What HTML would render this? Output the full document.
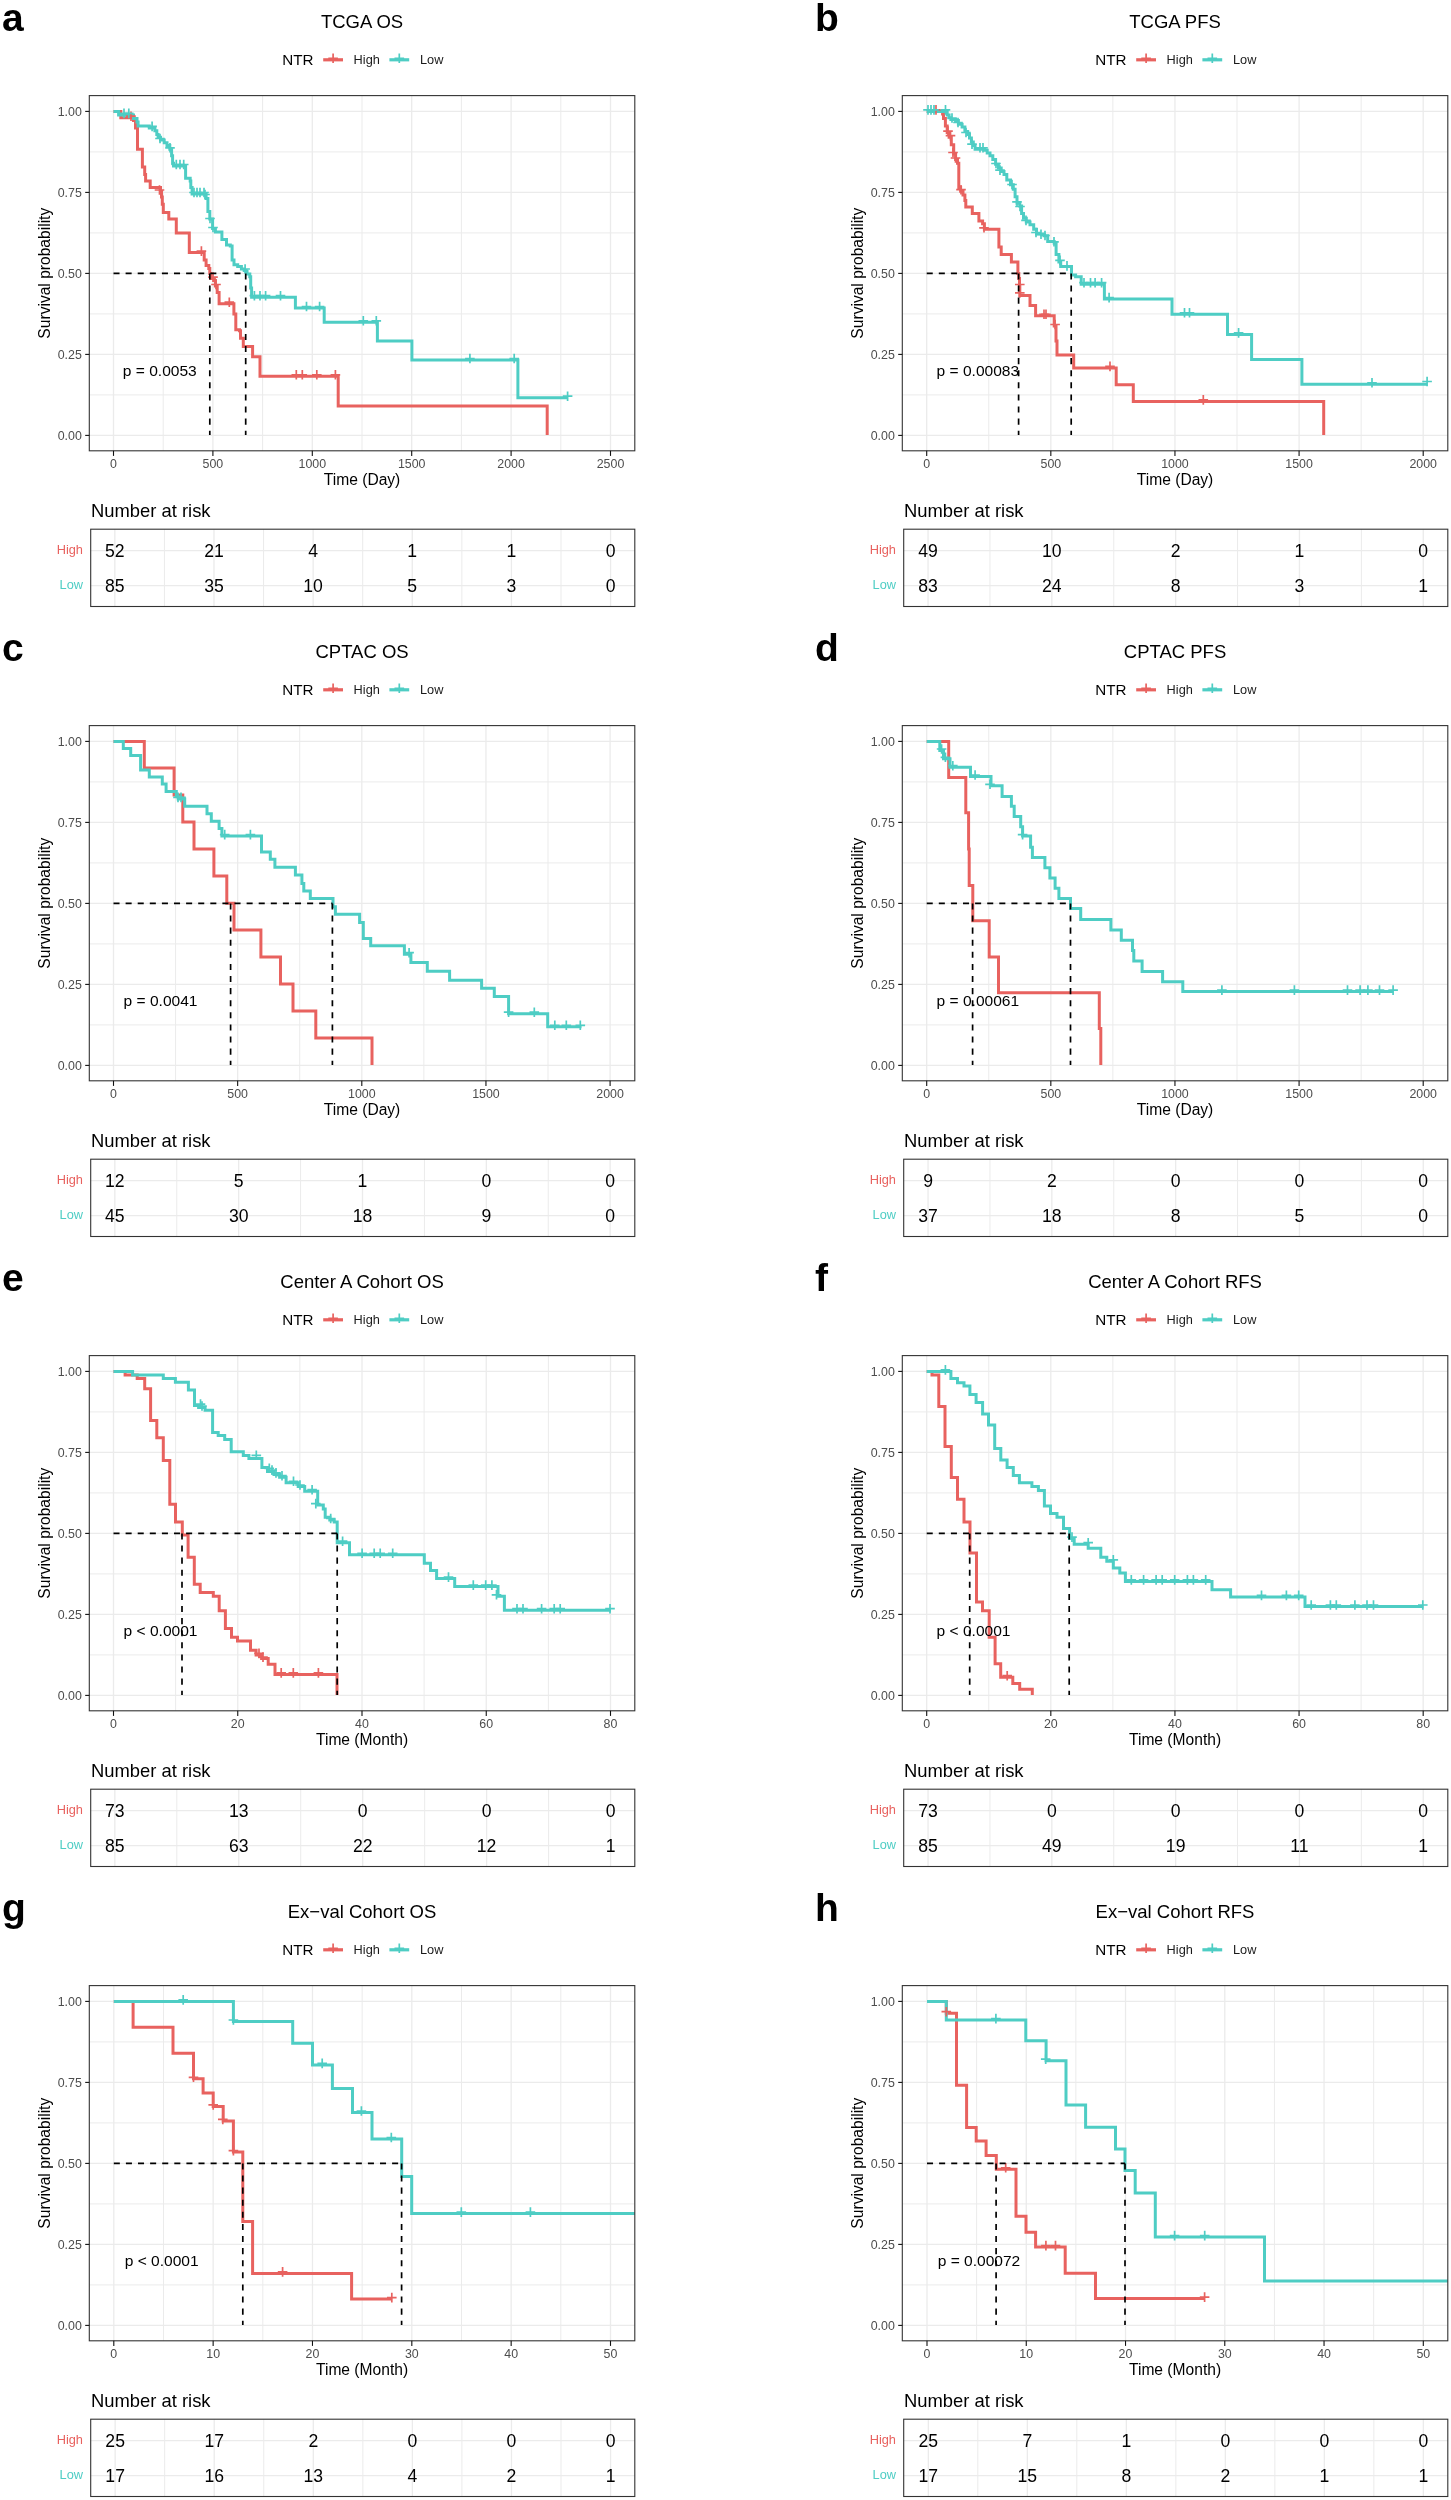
<!DOCTYPE html>
<html><head><meta charset="utf-8"><title>KM curves</title>
<style>html,body{margin:0;padding:0;background:#fff;}body{width:1451px;height:2500px;overflow:hidden;font-family:"Liberation Sans", sans-serif;}svg{display:block;will-change:transform;}</style>
</head><body>
<svg width="1451" height="2500" viewBox="0 0 1451 2500" font-family='&quot;Liberation Sans&quot;, sans-serif'>
<rect width="1451" height="2500" fill="#fff"/>
<g transform="translate(0,0)">
<text x="2" y="30.8" font-size="39" font-weight="bold" fill="#000">a</text>
<text x="362.05" y="28.2" font-size="18.5" text-anchor="middle" fill="#000">TCGA OS</text>
<text x="282.2" y="64.7" font-size="15.2" fill="#000">NTR</text>
<path d="M323.2 59.8h19.8" stroke="#E8625F" stroke-width="3.2"/>
<path d="M328.3 58.3h9.6M333.1 53.4v9.6" stroke="#E8625F" stroke-width="1.7"/>
<path d="M389.4 59.8h19.8" stroke="#4ECDC4" stroke-width="3.2"/>
<path d="M394.5 58.3h9.6M399.3 53.4v9.6" stroke="#4ECDC4" stroke-width="1.7"/>
<text x="353.6" y="64.3" font-size="12.75" fill="#1a1a1a">High</text>
<text x="420" y="64.3" font-size="12.75" fill="#1a1a1a">Low</text>
<rect x="89.3" y="95.6" width="545.5" height="355.2" fill="#fff"/>
<path d="M89.3 394.9H634.8" stroke="#EBEBEB" stroke-width="1"/>
<path d="M89.3 313.9H634.8" stroke="#EBEBEB" stroke-width="1"/>
<path d="M89.3 232.9H634.8" stroke="#EBEBEB" stroke-width="1"/>
<path d="M89.3 151.9H634.8" stroke="#EBEBEB" stroke-width="1"/>
<path d="M163.2 95.6V450.8" stroke="#EBEBEB" stroke-width="1"/>
<path d="M262.6 95.6V450.8" stroke="#EBEBEB" stroke-width="1"/>
<path d="M362 95.6V450.8" stroke="#EBEBEB" stroke-width="1"/>
<path d="M461.4 95.6V450.8" stroke="#EBEBEB" stroke-width="1"/>
<path d="M560.8 95.6V450.8" stroke="#EBEBEB" stroke-width="1"/>
<path d="M89.3 435.4H634.8" stroke="#EBEBEB" stroke-width="1.3"/>
<path d="M89.3 354.4H634.8" stroke="#EBEBEB" stroke-width="1.3"/>
<path d="M89.3 273.4H634.8" stroke="#EBEBEB" stroke-width="1.3"/>
<path d="M89.3 192.4H634.8" stroke="#EBEBEB" stroke-width="1.3"/>
<path d="M89.3 111.4H634.8" stroke="#EBEBEB" stroke-width="1.3"/>
<path d="M113.5 95.6V450.8" stroke="#EBEBEB" stroke-width="1.3"/>
<path d="M212.9 95.6V450.8" stroke="#EBEBEB" stroke-width="1.3"/>
<path d="M312.3 95.6V450.8" stroke="#EBEBEB" stroke-width="1.3"/>
<path d="M411.7 95.6V450.8" stroke="#EBEBEB" stroke-width="1.3"/>
<path d="M511.1 95.6V450.8" stroke="#EBEBEB" stroke-width="1.3"/>
<path d="M610.5 95.6V450.8" stroke="#EBEBEB" stroke-width="1.3"/>
</g>
<clipPath id="clipa"><rect x="89.3" y="95.6" width="545.5" height="355.2"/></clipPath>
<g clip-path="url(#clipa)">
<path d="M113.5 111.4H120.8V117.7H133.5V120.5H135.5V128H137.5V149.3H142.4V167H144.7V174.4H145.6V181H150.2V187.5H160.5V191.5H161.5V197H162.3V204.2H163.3V212.6H168.8V219.1H176.3V233H189.3V252.6H204.2V260H206.1V265.6H208.8V268.4H209.8V273.5H210.7V278.6H214.4V280.5H215.4V286H217.2V292.6H219.1V303.7H233.9V314H235.8V329.8H239.5V330.7H240.5V338.2H243.3V346.5H252.6V356.8H260V376.3H338.2V406H547.2V434.9H547.2" stroke="#E8625F" stroke-width="3" fill="none" stroke-linejoin="miter" stroke-linecap="butt"/>
<path d="M113.5 111.4H118.6V114.9H133.5V118.6H137V122H138.1V126H149.3V127.9H154.9V130.7H156.8V134.4H158.1V137.2H160.5V140H164.2V142.8H167V145.6H169.8V149.3H171.6V155.8H172.6V163.3H173.5V166H185.6V178.2H190.2V181H190.8V187.5H192.1V194H206.1V198.6H207.9V211.6H209.8V219.1H212.6V228.4H215.4V232.1H221.9V239.6H226.5V245.1H230.3V246.1H232.1V260H234V264.7H237.7V266.5H241.4V269H244.2V270.5H246.1V271.5H247V274H249.8V276.7H250.7V287.9H251.6V297.2H295.4V308H324.2V322.3H377.4V341H411.9V360H517.9V397.7H567.6" stroke="#4ECDC4" stroke-width="3" fill="none" stroke-linejoin="miter" stroke-linecap="butt"/>
<path d="M126.2 116.2h9.6M131 111.4v9.6" stroke="#E8625F" stroke-width="1.7" fill="none"/>
<path d="M154.7 190h9.6M159.5 185.2v9.6" stroke="#E8625F" stroke-width="1.7" fill="none"/>
<path d="M196.6 251.1h9.6M201.4 246.3v9.6" stroke="#E8625F" stroke-width="1.7" fill="none"/>
<path d="M208.2 277.1h9.6M213 272.3v9.6" stroke="#E8625F" stroke-width="1.7" fill="none"/>
<path d="M211.2 284.5h9.6M216 279.7v9.6" stroke="#E8625F" stroke-width="1.7" fill="none"/>
<path d="M224.5 302.2h9.6M229.3 297.4v9.6" stroke="#E8625F" stroke-width="1.7" fill="none"/>
<path d="M291.5 374.8h9.6M296.3 370v9.6" stroke="#E8625F" stroke-width="1.7" fill="none"/>
<path d="M297.5 374.8h9.6M302.3 370v9.6" stroke="#E8625F" stroke-width="1.7" fill="none"/>
<path d="M312 374.8h9.6M316.8 370v9.6" stroke="#E8625F" stroke-width="1.7" fill="none"/>
<path d="M330.6 374.8h9.6M335.4 370v9.6" stroke="#E8625F" stroke-width="1.7" fill="none"/>
<path d="M119.2 113.4h9.6M124 108.6v9.6" stroke="#4ECDC4" stroke-width="1.7" fill="none"/>
<path d="M124 113.4h9.6M128.8 108.6v9.6" stroke="#4ECDC4" stroke-width="1.7" fill="none"/>
<path d="M147.3 126.4h9.6M152.1 121.6v9.6" stroke="#4ECDC4" stroke-width="1.7" fill="none"/>
<path d="M155.2 138.5h9.6M160 133.7v9.6" stroke="#4ECDC4" stroke-width="1.7" fill="none"/>
<path d="M165.2 147.8h9.6M170 143v9.6" stroke="#4ECDC4" stroke-width="1.7" fill="none"/>
<path d="M171.5 164.5h9.6M176.3 159.7v9.6" stroke="#4ECDC4" stroke-width="1.7" fill="none"/>
<path d="M175.2 164.5h9.6M180 159.7v9.6" stroke="#4ECDC4" stroke-width="1.7" fill="none"/>
<path d="M178.9 164.5h9.6M183.7 159.7v9.6" stroke="#4ECDC4" stroke-width="1.7" fill="none"/>
<path d="M189.2 192.5h9.6M194 187.7v9.6" stroke="#4ECDC4" stroke-width="1.7" fill="none"/>
<path d="M192.2 192.5h9.6M197 187.7v9.6" stroke="#4ECDC4" stroke-width="1.7" fill="none"/>
<path d="M195.2 192.5h9.6M200 187.7v9.6" stroke="#4ECDC4" stroke-width="1.7" fill="none"/>
<path d="M199.2 192.5h9.6M204 187.7v9.6" stroke="#4ECDC4" stroke-width="1.7" fill="none"/>
<path d="M200.2 194.5h9.6M205 189.7v9.6" stroke="#4ECDC4" stroke-width="1.7" fill="none"/>
<path d="M205.2 218.5h9.6M210 213.7v9.6" stroke="#4ECDC4" stroke-width="1.7" fill="none"/>
<path d="M208.2 227.5h9.6M213 222.7v9.6" stroke="#4ECDC4" stroke-width="1.7" fill="none"/>
<path d="M240.3 269h9.6M245.1 264.2v9.6" stroke="#4ECDC4" stroke-width="1.7" fill="none"/>
<path d="M249.6 295.7h9.6M254.4 290.9v9.6" stroke="#4ECDC4" stroke-width="1.7" fill="none"/>
<path d="M255.2 295.7h9.6M260 290.9v9.6" stroke="#4ECDC4" stroke-width="1.7" fill="none"/>
<path d="M260.8 295.7h9.6M265.6 290.9v9.6" stroke="#4ECDC4" stroke-width="1.7" fill="none"/>
<path d="M275.7 295.7h9.6M280.5 290.9v9.6" stroke="#4ECDC4" stroke-width="1.7" fill="none"/>
<path d="M301.7 306.5h9.6M306.5 301.7v9.6" stroke="#4ECDC4" stroke-width="1.7" fill="none"/>
<path d="M314.8 306.5h9.6M319.6 301.7v9.6" stroke="#4ECDC4" stroke-width="1.7" fill="none"/>
<path d="M358.5 320.8h9.6M363.3 316v9.6" stroke="#4ECDC4" stroke-width="1.7" fill="none"/>
<path d="M371.5 320.8h9.6M376.3 316v9.6" stroke="#4ECDC4" stroke-width="1.7" fill="none"/>
<path d="M465.1 358.5h9.6M469.9 353.7v9.6" stroke="#4ECDC4" stroke-width="1.7" fill="none"/>
<path d="M509.4 358.5h9.6M514.2 353.7v9.6" stroke="#4ECDC4" stroke-width="1.7" fill="none"/>
<path d="M562.8 396.2h9.6M567.6 391.4v9.6" stroke="#4ECDC4" stroke-width="1.7" fill="none"/>
<path d="M113.5 273.4H245.7" stroke="#000" stroke-width="1.7" stroke-dasharray="6.05 6.05" fill="none"/>
<path d="M209.8 273.4V435" stroke="#000" stroke-width="1.7" stroke-dasharray="6.05 6.05" fill="none"/>
<path d="M245.7 273.4V435" stroke="#000" stroke-width="1.7" stroke-dasharray="6.05 6.05" fill="none"/>
</g>
<g transform="translate(0,0)">
<text x="122.8" y="375.9" font-size="15.55" fill="#000">p = 0.0053</text>
<rect x="89.3" y="95.6" width="545.5" height="355.2" fill="none" stroke="#333" stroke-width="1.1"/>
<path d="M85.2 111.4H89.3" stroke="#111" stroke-width="1.1"/>
<text x="81.8" y="115.8" font-size="12.4" text-anchor="end" fill="#4D4D4D">1.00</text>
<path d="M85.2 192.4H89.3" stroke="#111" stroke-width="1.1"/>
<text x="81.8" y="196.8" font-size="12.4" text-anchor="end" fill="#4D4D4D">0.75</text>
<path d="M85.2 273.4H89.3" stroke="#111" stroke-width="1.1"/>
<text x="81.8" y="277.8" font-size="12.4" text-anchor="end" fill="#4D4D4D">0.50</text>
<path d="M85.2 354.4H89.3" stroke="#111" stroke-width="1.1"/>
<text x="81.8" y="358.8" font-size="12.4" text-anchor="end" fill="#4D4D4D">0.25</text>
<path d="M85.2 435.4H89.3" stroke="#111" stroke-width="1.1"/>
<text x="81.8" y="439.8" font-size="12.4" text-anchor="end" fill="#4D4D4D">0.00</text>
<path d="M113.5 450.8V455.9" stroke="#111" stroke-width="1.1"/>
<text x="113.5" y="468" font-size="12.4" text-anchor="middle" fill="#4D4D4D">0</text>
<path d="M212.9 450.8V455.9" stroke="#111" stroke-width="1.1"/>
<text x="212.9" y="468" font-size="12.4" text-anchor="middle" fill="#4D4D4D">500</text>
<path d="M312.3 450.8V455.9" stroke="#111" stroke-width="1.1"/>
<text x="312.3" y="468" font-size="12.4" text-anchor="middle" fill="#4D4D4D">1000</text>
<path d="M411.7 450.8V455.9" stroke="#111" stroke-width="1.1"/>
<text x="411.7" y="468" font-size="12.4" text-anchor="middle" fill="#4D4D4D">1500</text>
<path d="M511.1 450.8V455.9" stroke="#111" stroke-width="1.1"/>
<text x="511.1" y="468" font-size="12.4" text-anchor="middle" fill="#4D4D4D">2000</text>
<path d="M610.5 450.8V455.9" stroke="#111" stroke-width="1.1"/>
<text x="610.5" y="468" font-size="12.4" text-anchor="middle" fill="#4D4D4D">2500</text>
<text x="362.05" y="485.1" font-size="15.6" text-anchor="middle" fill="#000">Time (Day)</text>
<text transform="translate(49.8 273.2) rotate(-90)" font-size="15.6" text-anchor="middle" fill="#000">Survival probability</text>
<text x="91" y="517.4" font-size="18.4" fill="#000">Number at risk</text>
<rect x="90.7" y="529.2" width="544.1" height="77.3" fill="#fff"/>
<path d="M164.41 529.2V606.5" stroke="#EBEBEB" stroke-width="1"/>
<path d="M263.56 529.2V606.5" stroke="#EBEBEB" stroke-width="1"/>
<path d="M362.7 529.2V606.5" stroke="#EBEBEB" stroke-width="1"/>
<path d="M461.85 529.2V606.5" stroke="#EBEBEB" stroke-width="1"/>
<path d="M560.99 529.2V606.5" stroke="#EBEBEB" stroke-width="1"/>
<path d="M114.84 529.2V606.5" stroke="#EBEBEB" stroke-width="1.3"/>
<path d="M213.98 529.2V606.5" stroke="#EBEBEB" stroke-width="1.3"/>
<path d="M313.13 529.2V606.5" stroke="#EBEBEB" stroke-width="1.3"/>
<path d="M412.27 529.2V606.5" stroke="#EBEBEB" stroke-width="1.3"/>
<path d="M511.42 529.2V606.5" stroke="#EBEBEB" stroke-width="1.3"/>
<path d="M610.56 529.2V606.5" stroke="#EBEBEB" stroke-width="1.3"/>
<path d="M90.7 550.6H634.8" stroke="#EBEBEB" stroke-width="1.3"/>
<path d="M90.7 585.7H634.8" stroke="#EBEBEB" stroke-width="1.3"/>
<rect x="90.7" y="529.2" width="544.1" height="77.3" fill="none" stroke="#333" stroke-width="1.1"/>
<text x="83" y="554.3" font-size="12.8" text-anchor="end" fill="#E8625F">High</text>
<text x="83" y="589.4" font-size="12.8" text-anchor="end" fill="#4ECDC4">Low</text>
<text x="114.84" y="556.9" font-size="17.6" text-anchor="middle" fill="#000">52</text>
<text x="114.84" y="592" font-size="17.6" text-anchor="middle" fill="#000">85</text>
<text x="213.98" y="556.9" font-size="17.6" text-anchor="middle" fill="#000">21</text>
<text x="213.98" y="592" font-size="17.6" text-anchor="middle" fill="#000">35</text>
<text x="313.13" y="556.9" font-size="17.6" text-anchor="middle" fill="#000">4</text>
<text x="313.13" y="592" font-size="17.6" text-anchor="middle" fill="#000">10</text>
<text x="412.27" y="556.9" font-size="17.6" text-anchor="middle" fill="#000">1</text>
<text x="412.27" y="592" font-size="17.6" text-anchor="middle" fill="#000">5</text>
<text x="511.42" y="556.9" font-size="17.6" text-anchor="middle" fill="#000">1</text>
<text x="511.42" y="592" font-size="17.6" text-anchor="middle" fill="#000">3</text>
<text x="610.56" y="556.9" font-size="17.6" text-anchor="middle" fill="#000">0</text>
<text x="610.56" y="592" font-size="17.6" text-anchor="middle" fill="#000">0</text>
</g>
<g transform="translate(813,0)">
<text x="2" y="30.8" font-size="39" font-weight="bold" fill="#000">b</text>
<text x="362.05" y="28.2" font-size="18.5" text-anchor="middle" fill="#000">TCGA PFS</text>
<text x="282.2" y="64.7" font-size="15.2" fill="#000">NTR</text>
<path d="M323.2 59.8h19.8" stroke="#E8625F" stroke-width="3.2"/>
<path d="M328.3 58.3h9.6M333.1 53.4v9.6" stroke="#E8625F" stroke-width="1.7"/>
<path d="M389.4 59.8h19.8" stroke="#4ECDC4" stroke-width="3.2"/>
<path d="M394.5 58.3h9.6M399.3 53.4v9.6" stroke="#4ECDC4" stroke-width="1.7"/>
<text x="353.6" y="64.3" font-size="12.75" fill="#1a1a1a">High</text>
<text x="420" y="64.3" font-size="12.75" fill="#1a1a1a">Low</text>
<rect x="89.3" y="95.6" width="545.5" height="355.2" fill="#fff"/>
<path d="M89.3 394.9H634.8" stroke="#EBEBEB" stroke-width="1"/>
<path d="M89.3 313.9H634.8" stroke="#EBEBEB" stroke-width="1"/>
<path d="M89.3 232.9H634.8" stroke="#EBEBEB" stroke-width="1"/>
<path d="M89.3 151.9H634.8" stroke="#EBEBEB" stroke-width="1"/>
<path d="M175.76 95.6V450.8" stroke="#EBEBEB" stroke-width="1"/>
<path d="M299.89 95.6V450.8" stroke="#EBEBEB" stroke-width="1"/>
<path d="M424.01 95.6V450.8" stroke="#EBEBEB" stroke-width="1"/>
<path d="M548.14 95.6V450.8" stroke="#EBEBEB" stroke-width="1"/>
<path d="M89.3 435.4H634.8" stroke="#EBEBEB" stroke-width="1.3"/>
<path d="M89.3 354.4H634.8" stroke="#EBEBEB" stroke-width="1.3"/>
<path d="M89.3 273.4H634.8" stroke="#EBEBEB" stroke-width="1.3"/>
<path d="M89.3 192.4H634.8" stroke="#EBEBEB" stroke-width="1.3"/>
<path d="M89.3 111.4H634.8" stroke="#EBEBEB" stroke-width="1.3"/>
<path d="M113.7 95.6V450.8" stroke="#EBEBEB" stroke-width="1.3"/>
<path d="M237.83 95.6V450.8" stroke="#EBEBEB" stroke-width="1.3"/>
<path d="M361.95 95.6V450.8" stroke="#EBEBEB" stroke-width="1.3"/>
<path d="M486.08 95.6V450.8" stroke="#EBEBEB" stroke-width="1.3"/>
<path d="M610.2 95.6V450.8" stroke="#EBEBEB" stroke-width="1.3"/>
</g>
<clipPath id="clipb"><rect x="902.3" y="95.6" width="545.5" height="355.2"/></clipPath>
<g clip-path="url(#clipb)">
<path d="M926.7 111.4H942.6V114H943.5V118.6H945.4V126H947.2V132.6H949.1V137.2H951.3V144.7H953.7V154H955.6V159.5H957.5V163.3H958.8V187.5H960.6V191.2H963V194.9H964.9V200.5H965.8V207H972.3V213.5H978.9V221H982.6V223.7H984.4V229.3H998.9V247H1001.2V254.4H1011.4V261.9H1017.9V273.4H1018.8V278.6H1019.5V286H1019.8V295.4H1030V305.6H1035.6V315.8H1054.2V326H1056V341H1057V354.9H1073.7V367.9H1116.2V384.7H1133.3V401.4H1323.7V435H1323.7" stroke="#E8625F" stroke-width="3" fill="none" stroke-linejoin="miter" stroke-linecap="butt"/>
<path d="M926.7 111.4H947.2V114.9H949.1V117.7H950.9V119.5H955.6V120.5H958.4V124.2H962.1V127H964.9V131.6H967.7V134.4H969.5V138.1H971.4V141.9H973.3V145.6H975.1V149.3H984.4V150.2H987.2V153H990V155.8H992.8V159.5H995.6V164.2H998.4V167.9H1001.2V171.6H1004V174.4H1006.8V180H1010.5V184.7H1013.3V189.3H1015.1V196.8H1017V203.3H1019.8V206.1H1021.6V213.5H1023.5V218.2H1026.3V221.9H1030V224.7H1033.7V229.3H1036.5V234H1044V235.8H1047.7V241.4H1054.2V243.3H1056.1V254.4H1058.9V261.9H1060.7V266.5H1071.5V274.9H1075.6V276.7H1081.2V284.2H1104.4V299.1H1172V314.3H1227.5V334.4H1251.6V359.6H1301.9V384.3H1427.3" stroke="#4ECDC4" stroke-width="3" fill="none" stroke-linejoin="miter" stroke-linecap="butt"/>
<path d="M931.2 109.9h9.6M936 105.1v9.6" stroke="#E8625F" stroke-width="1.7" fill="none"/>
<path d="M943.2 131.1h9.6M948 126.3v9.6" stroke="#E8625F" stroke-width="1.7" fill="none"/>
<path d="M945.7 135.7h9.6M950.5 130.9v9.6" stroke="#E8625F" stroke-width="1.7" fill="none"/>
<path d="M948.2 152.5h9.6M953 147.7v9.6" stroke="#E8625F" stroke-width="1.7" fill="none"/>
<path d="M950.7 158h9.6M955.5 153.2v9.6" stroke="#E8625F" stroke-width="1.7" fill="none"/>
<path d="M956.2 189.7h9.6M961 184.9v9.6" stroke="#E8625F" stroke-width="1.7" fill="none"/>
<path d="M979.2 227.8h9.6M984 223v9.6" stroke="#E8625F" stroke-width="1.7" fill="none"/>
<path d="M1015 284.5h9.6M1019.8 279.7v9.6" stroke="#E8625F" stroke-width="1.7" fill="none"/>
<path d="M1015 292.9h9.6M1019.8 288.1v9.6" stroke="#E8625F" stroke-width="1.7" fill="none"/>
<path d="M1039.2 314.3h9.6M1044 309.5v9.6" stroke="#E8625F" stroke-width="1.7" fill="none"/>
<path d="M1041.2 314.3h9.6M1046 309.5v9.6" stroke="#E8625F" stroke-width="1.7" fill="none"/>
<path d="M1050.3 324.5h9.6M1055.1 319.7v9.6" stroke="#E8625F" stroke-width="1.7" fill="none"/>
<path d="M1105.2 366.4h9.6M1110 361.6v9.6" stroke="#E8625F" stroke-width="1.7" fill="none"/>
<path d="M1198.5 399.9h9.6M1203.3 395.1v9.6" stroke="#E8625F" stroke-width="1.7" fill="none"/>
<path d="M923.2 109.9h9.6M928 105.1v9.6" stroke="#4ECDC4" stroke-width="1.7" fill="none"/>
<path d="M926.2 109.9h9.6M931 105.1v9.6" stroke="#4ECDC4" stroke-width="1.7" fill="none"/>
<path d="M929.2 109.9h9.6M934 105.1v9.6" stroke="#4ECDC4" stroke-width="1.7" fill="none"/>
<path d="M940.7 109.9h9.6M945.5 105.1v9.6" stroke="#4ECDC4" stroke-width="1.7" fill="none"/>
<path d="M947.2 118h9.6M952 113.2v9.6" stroke="#4ECDC4" stroke-width="1.7" fill="none"/>
<path d="M953.2 122.5h9.6M958 117.7v9.6" stroke="#4ECDC4" stroke-width="1.7" fill="none"/>
<path d="M961.2 132.5h9.6M966 127.7v9.6" stroke="#4ECDC4" stroke-width="1.7" fill="none"/>
<path d="M967.2 144.1h9.6M972 139.3v9.6" stroke="#4ECDC4" stroke-width="1.7" fill="none"/>
<path d="M975.2 147.8h9.6M980 143v9.6" stroke="#4ECDC4" stroke-width="1.7" fill="none"/>
<path d="M978.2 147.8h9.6M983 143v9.6" stroke="#4ECDC4" stroke-width="1.7" fill="none"/>
<path d="M991.2 163.5h9.6M996 158.7v9.6" stroke="#4ECDC4" stroke-width="1.7" fill="none"/>
<path d="M995.2 170.1h9.6M1000 165.3v9.6" stroke="#4ECDC4" stroke-width="1.7" fill="none"/>
<path d="M1007.2 184.5h9.6M1012 179.7v9.6" stroke="#4ECDC4" stroke-width="1.7" fill="none"/>
<path d="M1012.2 201.8h9.6M1017 197v9.6" stroke="#4ECDC4" stroke-width="1.7" fill="none"/>
<path d="M1015.2 206.5h9.6M1020 201.7v9.6" stroke="#4ECDC4" stroke-width="1.7" fill="none"/>
<path d="M1021.2 220.4h9.6M1026 215.6v9.6" stroke="#4ECDC4" stroke-width="1.7" fill="none"/>
<path d="M1031.2 232.5h9.6M1036 227.7v9.6" stroke="#4ECDC4" stroke-width="1.7" fill="none"/>
<path d="M1036.2 234.3h9.6M1041 229.5v9.6" stroke="#4ECDC4" stroke-width="1.7" fill="none"/>
<path d="M1040.2 235.5h9.6M1045 230.7v9.6" stroke="#4ECDC4" stroke-width="1.7" fill="none"/>
<path d="M1049.2 241.8h9.6M1054 237v9.6" stroke="#4ECDC4" stroke-width="1.7" fill="none"/>
<path d="M1055.2 260.4h9.6M1060 255.6v9.6" stroke="#4ECDC4" stroke-width="1.7" fill="none"/>
<path d="M1062.2 265.9h9.6M1067 261.1v9.6" stroke="#4ECDC4" stroke-width="1.7" fill="none"/>
<path d="M1079.2 282.7h9.6M1084 277.9v9.6" stroke="#4ECDC4" stroke-width="1.7" fill="none"/>
<path d="M1085.7 282.7h9.6M1090.5 277.9v9.6" stroke="#4ECDC4" stroke-width="1.7" fill="none"/>
<path d="M1090.3 282.7h9.6M1095.1 277.9v9.6" stroke="#4ECDC4" stroke-width="1.7" fill="none"/>
<path d="M1096.8 282.7h9.6M1101.6 277.9v9.6" stroke="#4ECDC4" stroke-width="1.7" fill="none"/>
<path d="M1104.3 297.6h9.6M1109.1 292.8v9.6" stroke="#4ECDC4" stroke-width="1.7" fill="none"/>
<path d="M1179.7 312.8h9.6M1184.5 308v9.6" stroke="#4ECDC4" stroke-width="1.7" fill="none"/>
<path d="M1184.7 312.8h9.6M1189.5 308v9.6" stroke="#4ECDC4" stroke-width="1.7" fill="none"/>
<path d="M1233.8 332.9h9.6M1238.6 328.1v9.6" stroke="#4ECDC4" stroke-width="1.7" fill="none"/>
<path d="M1367.2 382.8h9.6M1372 378v9.6" stroke="#4ECDC4" stroke-width="1.7" fill="none"/>
<path d="M1422.3 381.5h9.6M1427.1 376.7v9.6" stroke="#4ECDC4" stroke-width="1.7" fill="none"/>
<path d="M926.7 273.4H1071.2" stroke="#000" stroke-width="1.7" stroke-dasharray="6.05 6.05" fill="none"/>
<path d="M1018.6 273.4V435" stroke="#000" stroke-width="1.7" stroke-dasharray="6.05 6.05" fill="none"/>
<path d="M1071.2 273.4V435" stroke="#000" stroke-width="1.7" stroke-dasharray="6.05 6.05" fill="none"/>
</g>
<g transform="translate(813,0)">
<text x="123.6" y="375.9" font-size="15.55" fill="#000">p = 0.00083</text>
<rect x="89.3" y="95.6" width="545.5" height="355.2" fill="none" stroke="#333" stroke-width="1.1"/>
<path d="M85.2 111.4H89.3" stroke="#111" stroke-width="1.1"/>
<text x="81.8" y="115.8" font-size="12.4" text-anchor="end" fill="#4D4D4D">1.00</text>
<path d="M85.2 192.4H89.3" stroke="#111" stroke-width="1.1"/>
<text x="81.8" y="196.8" font-size="12.4" text-anchor="end" fill="#4D4D4D">0.75</text>
<path d="M85.2 273.4H89.3" stroke="#111" stroke-width="1.1"/>
<text x="81.8" y="277.8" font-size="12.4" text-anchor="end" fill="#4D4D4D">0.50</text>
<path d="M85.2 354.4H89.3" stroke="#111" stroke-width="1.1"/>
<text x="81.8" y="358.8" font-size="12.4" text-anchor="end" fill="#4D4D4D">0.25</text>
<path d="M85.2 435.4H89.3" stroke="#111" stroke-width="1.1"/>
<text x="81.8" y="439.8" font-size="12.4" text-anchor="end" fill="#4D4D4D">0.00</text>
<path d="M113.7 450.8V455.9" stroke="#111" stroke-width="1.1"/>
<text x="113.7" y="468" font-size="12.4" text-anchor="middle" fill="#4D4D4D">0</text>
<path d="M237.83 450.8V455.9" stroke="#111" stroke-width="1.1"/>
<text x="237.83" y="468" font-size="12.4" text-anchor="middle" fill="#4D4D4D">500</text>
<path d="M361.95 450.8V455.9" stroke="#111" stroke-width="1.1"/>
<text x="361.95" y="468" font-size="12.4" text-anchor="middle" fill="#4D4D4D">1000</text>
<path d="M486.08 450.8V455.9" stroke="#111" stroke-width="1.1"/>
<text x="486.08" y="468" font-size="12.4" text-anchor="middle" fill="#4D4D4D">1500</text>
<path d="M610.2 450.8V455.9" stroke="#111" stroke-width="1.1"/>
<text x="610.2" y="468" font-size="12.4" text-anchor="middle" fill="#4D4D4D">2000</text>
<text x="362.05" y="485.1" font-size="15.6" text-anchor="middle" fill="#000">Time (Day)</text>
<text transform="translate(49.8 273.2) rotate(-90)" font-size="15.6" text-anchor="middle" fill="#000">Survival probability</text>
<text x="91" y="517.4" font-size="18.4" fill="#000">Number at risk</text>
<rect x="90.7" y="529.2" width="544.1" height="77.3" fill="#fff"/>
<path d="M176.94 529.2V606.5" stroke="#EBEBEB" stroke-width="1"/>
<path d="M300.75 529.2V606.5" stroke="#EBEBEB" stroke-width="1"/>
<path d="M424.55 529.2V606.5" stroke="#EBEBEB" stroke-width="1"/>
<path d="M548.36 529.2V606.5" stroke="#EBEBEB" stroke-width="1"/>
<path d="M115.04 529.2V606.5" stroke="#EBEBEB" stroke-width="1.3"/>
<path d="M238.84 529.2V606.5" stroke="#EBEBEB" stroke-width="1.3"/>
<path d="M362.65 529.2V606.5" stroke="#EBEBEB" stroke-width="1.3"/>
<path d="M486.46 529.2V606.5" stroke="#EBEBEB" stroke-width="1.3"/>
<path d="M610.26 529.2V606.5" stroke="#EBEBEB" stroke-width="1.3"/>
<path d="M90.7 550.6H634.8" stroke="#EBEBEB" stroke-width="1.3"/>
<path d="M90.7 585.7H634.8" stroke="#EBEBEB" stroke-width="1.3"/>
<rect x="90.7" y="529.2" width="544.1" height="77.3" fill="none" stroke="#333" stroke-width="1.1"/>
<text x="83" y="554.3" font-size="12.8" text-anchor="end" fill="#E8625F">High</text>
<text x="83" y="589.4" font-size="12.8" text-anchor="end" fill="#4ECDC4">Low</text>
<text x="115.04" y="556.9" font-size="17.6" text-anchor="middle" fill="#000">49</text>
<text x="115.04" y="592" font-size="17.6" text-anchor="middle" fill="#000">83</text>
<text x="238.84" y="556.9" font-size="17.6" text-anchor="middle" fill="#000">10</text>
<text x="238.84" y="592" font-size="17.6" text-anchor="middle" fill="#000">24</text>
<text x="362.65" y="556.9" font-size="17.6" text-anchor="middle" fill="#000">2</text>
<text x="362.65" y="592" font-size="17.6" text-anchor="middle" fill="#000">8</text>
<text x="486.46" y="556.9" font-size="17.6" text-anchor="middle" fill="#000">1</text>
<text x="486.46" y="592" font-size="17.6" text-anchor="middle" fill="#000">3</text>
<text x="610.26" y="556.9" font-size="17.6" text-anchor="middle" fill="#000">0</text>
<text x="610.26" y="592" font-size="17.6" text-anchor="middle" fill="#000">1</text>
</g>
<g transform="translate(0,630)">
<text x="2" y="30.8" font-size="39" font-weight="bold" fill="#000">c</text>
<text x="362.05" y="28.2" font-size="18.5" text-anchor="middle" fill="#000">CPTAC OS</text>
<text x="282.2" y="64.7" font-size="15.2" fill="#000">NTR</text>
<path d="M323.2 59.8h19.8" stroke="#E8625F" stroke-width="3.2"/>
<path d="M328.3 58.3h9.6M333.1 53.4v9.6" stroke="#E8625F" stroke-width="1.7"/>
<path d="M389.4 59.8h19.8" stroke="#4ECDC4" stroke-width="3.2"/>
<path d="M394.5 58.3h9.6M399.3 53.4v9.6" stroke="#4ECDC4" stroke-width="1.7"/>
<text x="353.6" y="64.3" font-size="12.75" fill="#1a1a1a">High</text>
<text x="420" y="64.3" font-size="12.75" fill="#1a1a1a">Low</text>
<rect x="89.3" y="95.6" width="545.5" height="355.2" fill="#fff"/>
<path d="M89.3 394.9H634.8" stroke="#EBEBEB" stroke-width="1"/>
<path d="M89.3 313.9H634.8" stroke="#EBEBEB" stroke-width="1"/>
<path d="M89.3 232.9H634.8" stroke="#EBEBEB" stroke-width="1"/>
<path d="M89.3 151.9H634.8" stroke="#EBEBEB" stroke-width="1"/>
<path d="M175.57 95.6V450.8" stroke="#EBEBEB" stroke-width="1"/>
<path d="M299.73 95.6V450.8" stroke="#EBEBEB" stroke-width="1"/>
<path d="M423.88 95.6V450.8" stroke="#EBEBEB" stroke-width="1"/>
<path d="M548.02 95.6V450.8" stroke="#EBEBEB" stroke-width="1"/>
<path d="M89.3 435.4H634.8" stroke="#EBEBEB" stroke-width="1.3"/>
<path d="M89.3 354.4H634.8" stroke="#EBEBEB" stroke-width="1.3"/>
<path d="M89.3 273.4H634.8" stroke="#EBEBEB" stroke-width="1.3"/>
<path d="M89.3 192.4H634.8" stroke="#EBEBEB" stroke-width="1.3"/>
<path d="M89.3 111.4H634.8" stroke="#EBEBEB" stroke-width="1.3"/>
<path d="M113.5 95.6V450.8" stroke="#EBEBEB" stroke-width="1.3"/>
<path d="M237.65 95.6V450.8" stroke="#EBEBEB" stroke-width="1.3"/>
<path d="M361.8 95.6V450.8" stroke="#EBEBEB" stroke-width="1.3"/>
<path d="M485.95 95.6V450.8" stroke="#EBEBEB" stroke-width="1.3"/>
<path d="M610.1 95.6V450.8" stroke="#EBEBEB" stroke-width="1.3"/>
</g>
<clipPath id="clipc"><rect x="89.3" y="725.6" width="545.5" height="355.2"/></clipPath>
<g clip-path="url(#clipc)">
<path d="M113.5 741.4H144.3V768.1H174.1V795.1H182.8V822.1H194V849.1H213.9V876.1H226.8V903.2H234V930H260.9V957H280.5V984H293V1011H315.8V1038H372V1065H372" stroke="#E8625F" stroke-width="3" fill="none" stroke-linejoin="miter" stroke-linecap="butt"/>
<path d="M113.5 741.4H123.3V748.6H130.7V755.5H140.6V770H149.3V776.9H162.3V784H166.1V791.4H176.3V796.1H178.2V798.9H184.7V806.3H207V813.7H211.3V821.2H219.1V828.6H221.9V836.1H261.5V851.9H270.3V859.3H274.9V867.3H295.4V875.1H301.9V883.5H303.8V891H310.3V898.4H333V906.7H335.4V914.2H359.6V922.6H363.3V938.4H370.7V945.8H404.4V954.2H410.9V962.6H427.3V971.3H449.6V980.2H481.6V988.3H494.3V996.4H508.6V1013.7H547.7V1026.8H581.5" stroke="#4ECDC4" stroke-width="3" fill="none" stroke-linejoin="miter" stroke-linecap="butt"/>
<path d="M173.2 797.4h9.6M178 792.6v9.6" stroke="#4ECDC4" stroke-width="1.7" fill="none"/>
<path d="M176.2 797.4h9.6M181 792.6v9.6" stroke="#4ECDC4" stroke-width="1.7" fill="none"/>
<path d="M219.9 834.6h9.6M224.7 829.8v9.6" stroke="#4ECDC4" stroke-width="1.7" fill="none"/>
<path d="M245.6 834.6h9.6M250.4 829.8v9.6" stroke="#4ECDC4" stroke-width="1.7" fill="none"/>
<path d="M404.3 952.7h9.6M409.1 947.9v9.6" stroke="#4ECDC4" stroke-width="1.7" fill="none"/>
<path d="M503.8 1012.2h9.6M508.6 1007.4v9.6" stroke="#4ECDC4" stroke-width="1.7" fill="none"/>
<path d="M529.5 1012.2h9.6M534.3 1007.4v9.6" stroke="#4ECDC4" stroke-width="1.7" fill="none"/>
<path d="M550 1025.3h9.6M554.8 1020.5v9.6" stroke="#4ECDC4" stroke-width="1.7" fill="none"/>
<path d="M561.5 1025.3h9.6M566.3 1020.5v9.6" stroke="#4ECDC4" stroke-width="1.7" fill="none"/>
<path d="M575.5 1025.3h9.6M580.3 1020.5v9.6" stroke="#4ECDC4" stroke-width="1.7" fill="none"/>
<path d="M113.5 903.4H332.4" stroke="#000" stroke-width="1.7" stroke-dasharray="6.05 6.05" fill="none"/>
<path d="M230.6 903.4V1065" stroke="#000" stroke-width="1.7" stroke-dasharray="6.05 6.05" fill="none"/>
<path d="M332.4 903.4V1065" stroke="#000" stroke-width="1.7" stroke-dasharray="6.05 6.05" fill="none"/>
</g>
<g transform="translate(0,630)">
<text x="123.6" y="375.9" font-size="15.55" fill="#000">p = 0.0041</text>
<rect x="89.3" y="95.6" width="545.5" height="355.2" fill="none" stroke="#333" stroke-width="1.1"/>
<path d="M85.2 111.4H89.3" stroke="#111" stroke-width="1.1"/>
<text x="81.8" y="115.8" font-size="12.4" text-anchor="end" fill="#4D4D4D">1.00</text>
<path d="M85.2 192.4H89.3" stroke="#111" stroke-width="1.1"/>
<text x="81.8" y="196.8" font-size="12.4" text-anchor="end" fill="#4D4D4D">0.75</text>
<path d="M85.2 273.4H89.3" stroke="#111" stroke-width="1.1"/>
<text x="81.8" y="277.8" font-size="12.4" text-anchor="end" fill="#4D4D4D">0.50</text>
<path d="M85.2 354.4H89.3" stroke="#111" stroke-width="1.1"/>
<text x="81.8" y="358.8" font-size="12.4" text-anchor="end" fill="#4D4D4D">0.25</text>
<path d="M85.2 435.4H89.3" stroke="#111" stroke-width="1.1"/>
<text x="81.8" y="439.8" font-size="12.4" text-anchor="end" fill="#4D4D4D">0.00</text>
<path d="M113.5 450.8V455.9" stroke="#111" stroke-width="1.1"/>
<text x="113.5" y="468" font-size="12.4" text-anchor="middle" fill="#4D4D4D">0</text>
<path d="M237.65 450.8V455.9" stroke="#111" stroke-width="1.1"/>
<text x="237.65" y="468" font-size="12.4" text-anchor="middle" fill="#4D4D4D">500</text>
<path d="M361.8 450.8V455.9" stroke="#111" stroke-width="1.1"/>
<text x="361.8" y="468" font-size="12.4" text-anchor="middle" fill="#4D4D4D">1000</text>
<path d="M485.95 450.8V455.9" stroke="#111" stroke-width="1.1"/>
<text x="485.95" y="468" font-size="12.4" text-anchor="middle" fill="#4D4D4D">1500</text>
<path d="M610.1 450.8V455.9" stroke="#111" stroke-width="1.1"/>
<text x="610.1" y="468" font-size="12.4" text-anchor="middle" fill="#4D4D4D">2000</text>
<text x="362.05" y="485.1" font-size="15.6" text-anchor="middle" fill="#000">Time (Day)</text>
<text transform="translate(49.8 273.2) rotate(-90)" font-size="15.6" text-anchor="middle" fill="#000">Survival probability</text>
<text x="91" y="517.4" font-size="18.4" fill="#000">Number at risk</text>
<rect x="90.7" y="529.2" width="544.1" height="77.3" fill="#fff"/>
<path d="M176.75 529.2V606.5" stroke="#EBEBEB" stroke-width="1"/>
<path d="M300.58 529.2V606.5" stroke="#EBEBEB" stroke-width="1"/>
<path d="M424.42 529.2V606.5" stroke="#EBEBEB" stroke-width="1"/>
<path d="M548.25 529.2V606.5" stroke="#EBEBEB" stroke-width="1"/>
<path d="M114.84 529.2V606.5" stroke="#EBEBEB" stroke-width="1.3"/>
<path d="M238.67 529.2V606.5" stroke="#EBEBEB" stroke-width="1.3"/>
<path d="M362.5 529.2V606.5" stroke="#EBEBEB" stroke-width="1.3"/>
<path d="M486.33 529.2V606.5" stroke="#EBEBEB" stroke-width="1.3"/>
<path d="M610.16 529.2V606.5" stroke="#EBEBEB" stroke-width="1.3"/>
<path d="M90.7 550.6H634.8" stroke="#EBEBEB" stroke-width="1.3"/>
<path d="M90.7 585.7H634.8" stroke="#EBEBEB" stroke-width="1.3"/>
<rect x="90.7" y="529.2" width="544.1" height="77.3" fill="none" stroke="#333" stroke-width="1.1"/>
<text x="83" y="554.3" font-size="12.8" text-anchor="end" fill="#E8625F">High</text>
<text x="83" y="589.4" font-size="12.8" text-anchor="end" fill="#4ECDC4">Low</text>
<text x="114.84" y="556.9" font-size="17.6" text-anchor="middle" fill="#000">12</text>
<text x="114.84" y="592" font-size="17.6" text-anchor="middle" fill="#000">45</text>
<text x="238.67" y="556.9" font-size="17.6" text-anchor="middle" fill="#000">5</text>
<text x="238.67" y="592" font-size="17.6" text-anchor="middle" fill="#000">30</text>
<text x="362.5" y="556.9" font-size="17.6" text-anchor="middle" fill="#000">1</text>
<text x="362.5" y="592" font-size="17.6" text-anchor="middle" fill="#000">18</text>
<text x="486.33" y="556.9" font-size="17.6" text-anchor="middle" fill="#000">0</text>
<text x="486.33" y="592" font-size="17.6" text-anchor="middle" fill="#000">9</text>
<text x="610.16" y="556.9" font-size="17.6" text-anchor="middle" fill="#000">0</text>
<text x="610.16" y="592" font-size="17.6" text-anchor="middle" fill="#000">0</text>
</g>
<g transform="translate(813,630)">
<text x="2" y="30.8" font-size="39" font-weight="bold" fill="#000">d</text>
<text x="362.05" y="28.2" font-size="18.5" text-anchor="middle" fill="#000">CPTAC PFS</text>
<text x="282.2" y="64.7" font-size="15.2" fill="#000">NTR</text>
<path d="M323.2 59.8h19.8" stroke="#E8625F" stroke-width="3.2"/>
<path d="M328.3 58.3h9.6M333.1 53.4v9.6" stroke="#E8625F" stroke-width="1.7"/>
<path d="M389.4 59.8h19.8" stroke="#4ECDC4" stroke-width="3.2"/>
<path d="M394.5 58.3h9.6M399.3 53.4v9.6" stroke="#4ECDC4" stroke-width="1.7"/>
<text x="353.6" y="64.3" font-size="12.75" fill="#1a1a1a">High</text>
<text x="420" y="64.3" font-size="12.75" fill="#1a1a1a">Low</text>
<rect x="89.3" y="95.6" width="545.5" height="355.2" fill="#fff"/>
<path d="M89.3 394.9H634.8" stroke="#EBEBEB" stroke-width="1"/>
<path d="M89.3 313.9H634.8" stroke="#EBEBEB" stroke-width="1"/>
<path d="M89.3 232.9H634.8" stroke="#EBEBEB" stroke-width="1"/>
<path d="M89.3 151.9H634.8" stroke="#EBEBEB" stroke-width="1"/>
<path d="M175.76 95.6V450.8" stroke="#EBEBEB" stroke-width="1"/>
<path d="M299.89 95.6V450.8" stroke="#EBEBEB" stroke-width="1"/>
<path d="M424.01 95.6V450.8" stroke="#EBEBEB" stroke-width="1"/>
<path d="M548.14 95.6V450.8" stroke="#EBEBEB" stroke-width="1"/>
<path d="M89.3 435.4H634.8" stroke="#EBEBEB" stroke-width="1.3"/>
<path d="M89.3 354.4H634.8" stroke="#EBEBEB" stroke-width="1.3"/>
<path d="M89.3 273.4H634.8" stroke="#EBEBEB" stroke-width="1.3"/>
<path d="M89.3 192.4H634.8" stroke="#EBEBEB" stroke-width="1.3"/>
<path d="M89.3 111.4H634.8" stroke="#EBEBEB" stroke-width="1.3"/>
<path d="M113.7 95.6V450.8" stroke="#EBEBEB" stroke-width="1.3"/>
<path d="M237.83 95.6V450.8" stroke="#EBEBEB" stroke-width="1.3"/>
<path d="M361.95 95.6V450.8" stroke="#EBEBEB" stroke-width="1.3"/>
<path d="M486.08 95.6V450.8" stroke="#EBEBEB" stroke-width="1.3"/>
<path d="M610.2 95.6V450.8" stroke="#EBEBEB" stroke-width="1.3"/>
</g>
<clipPath id="clipd"><rect x="902.3" y="725.6" width="545.5" height="355.2"/></clipPath>
<g clip-path="url(#clipd)">
<path d="M926.7 741.4H948.7V777.5H965.8V812.8H968.6V849.1H969.2V885.4H972.8V920.7H989.2V957H998.5V992.7H1099.3V1028.6H1100.8V1065H1100.8" stroke="#E8625F" stroke-width="3" fill="none" stroke-linejoin="miter" stroke-linecap="butt"/>
<path d="M926.7 741.4H939.8V750.5H943.5V758.8H950V767.2H970.5V776.5H991V785.8H1002.1V796.6H1011.4V806.3H1014.2V816.5H1020.7V826.8H1022.6V836.1H1030.6V847.2H1032.4V857.5H1044.9V867.7H1049.9V877.9H1055.1V888.2H1058.9V898.4H1070.5V908.6H1080.7V919.4H1110.9V930H1121.3V940.2H1132.5V950.5H1133.8V961.1H1142.1V971.5H1162.6V981.7H1182.8V991.6H1393.1" stroke="#4ECDC4" stroke-width="3" fill="none" stroke-linejoin="miter" stroke-linecap="butt"/>
<path d="M936.8 749h9.6M941.6 744.2v9.6" stroke="#4ECDC4" stroke-width="1.7" fill="none"/>
<path d="M940.6 757.3h9.6M945.4 752.5v9.6" stroke="#4ECDC4" stroke-width="1.7" fill="none"/>
<path d="M948 765.7h9.6M952.8 760.9v9.6" stroke="#4ECDC4" stroke-width="1.7" fill="none"/>
<path d="M970.3 775h9.6M975.1 770.2v9.6" stroke="#4ECDC4" stroke-width="1.7" fill="none"/>
<path d="M985.2 784.3h9.6M990 779.5v9.6" stroke="#4ECDC4" stroke-width="1.7" fill="none"/>
<path d="M1017.8 834.6h9.6M1022.6 829.8v9.6" stroke="#4ECDC4" stroke-width="1.7" fill="none"/>
<path d="M1217.1 990.1h9.6M1221.9 985.3v9.6" stroke="#4ECDC4" stroke-width="1.7" fill="none"/>
<path d="M1289.6 990.1h9.6M1294.4 985.3v9.6" stroke="#4ECDC4" stroke-width="1.7" fill="none"/>
<path d="M1342.7 990.1h9.6M1347.5 985.3v9.6" stroke="#4ECDC4" stroke-width="1.7" fill="none"/>
<path d="M1355.3 990.1h9.6M1360.1 985.3v9.6" stroke="#4ECDC4" stroke-width="1.7" fill="none"/>
<path d="M1363.1 990.1h9.6M1367.9 985.3v9.6" stroke="#4ECDC4" stroke-width="1.7" fill="none"/>
<path d="M1374.7 990.1h9.6M1379.5 985.3v9.6" stroke="#4ECDC4" stroke-width="1.7" fill="none"/>
<path d="M1388.3 990.1h9.6M1393.1 985.3v9.6" stroke="#4ECDC4" stroke-width="1.7" fill="none"/>
<path d="M926.7 903.4H1070.5" stroke="#000" stroke-width="1.7" stroke-dasharray="6.05 6.05" fill="none"/>
<path d="M972.6 903.4V1065" stroke="#000" stroke-width="1.7" stroke-dasharray="6.05 6.05" fill="none"/>
<path d="M1070.5 903.4V1065" stroke="#000" stroke-width="1.7" stroke-dasharray="6.05 6.05" fill="none"/>
</g>
<g transform="translate(813,630)">
<text x="123.6" y="375.9" font-size="15.55" fill="#000">p = 0.00061</text>
<rect x="89.3" y="95.6" width="545.5" height="355.2" fill="none" stroke="#333" stroke-width="1.1"/>
<path d="M85.2 111.4H89.3" stroke="#111" stroke-width="1.1"/>
<text x="81.8" y="115.8" font-size="12.4" text-anchor="end" fill="#4D4D4D">1.00</text>
<path d="M85.2 192.4H89.3" stroke="#111" stroke-width="1.1"/>
<text x="81.8" y="196.8" font-size="12.4" text-anchor="end" fill="#4D4D4D">0.75</text>
<path d="M85.2 273.4H89.3" stroke="#111" stroke-width="1.1"/>
<text x="81.8" y="277.8" font-size="12.4" text-anchor="end" fill="#4D4D4D">0.50</text>
<path d="M85.2 354.4H89.3" stroke="#111" stroke-width="1.1"/>
<text x="81.8" y="358.8" font-size="12.4" text-anchor="end" fill="#4D4D4D">0.25</text>
<path d="M85.2 435.4H89.3" stroke="#111" stroke-width="1.1"/>
<text x="81.8" y="439.8" font-size="12.4" text-anchor="end" fill="#4D4D4D">0.00</text>
<path d="M113.7 450.8V455.9" stroke="#111" stroke-width="1.1"/>
<text x="113.7" y="468" font-size="12.4" text-anchor="middle" fill="#4D4D4D">0</text>
<path d="M237.83 450.8V455.9" stroke="#111" stroke-width="1.1"/>
<text x="237.83" y="468" font-size="12.4" text-anchor="middle" fill="#4D4D4D">500</text>
<path d="M361.95 450.8V455.9" stroke="#111" stroke-width="1.1"/>
<text x="361.95" y="468" font-size="12.4" text-anchor="middle" fill="#4D4D4D">1000</text>
<path d="M486.08 450.8V455.9" stroke="#111" stroke-width="1.1"/>
<text x="486.08" y="468" font-size="12.4" text-anchor="middle" fill="#4D4D4D">1500</text>
<path d="M610.2 450.8V455.9" stroke="#111" stroke-width="1.1"/>
<text x="610.2" y="468" font-size="12.4" text-anchor="middle" fill="#4D4D4D">2000</text>
<text x="362.05" y="485.1" font-size="15.6" text-anchor="middle" fill="#000">Time (Day)</text>
<text transform="translate(49.8 273.2) rotate(-90)" font-size="15.6" text-anchor="middle" fill="#000">Survival probability</text>
<text x="91" y="517.4" font-size="18.4" fill="#000">Number at risk</text>
<rect x="90.7" y="529.2" width="544.1" height="77.3" fill="#fff"/>
<path d="M176.94 529.2V606.5" stroke="#EBEBEB" stroke-width="1"/>
<path d="M300.75 529.2V606.5" stroke="#EBEBEB" stroke-width="1"/>
<path d="M424.55 529.2V606.5" stroke="#EBEBEB" stroke-width="1"/>
<path d="M548.36 529.2V606.5" stroke="#EBEBEB" stroke-width="1"/>
<path d="M115.04 529.2V606.5" stroke="#EBEBEB" stroke-width="1.3"/>
<path d="M238.84 529.2V606.5" stroke="#EBEBEB" stroke-width="1.3"/>
<path d="M362.65 529.2V606.5" stroke="#EBEBEB" stroke-width="1.3"/>
<path d="M486.46 529.2V606.5" stroke="#EBEBEB" stroke-width="1.3"/>
<path d="M610.26 529.2V606.5" stroke="#EBEBEB" stroke-width="1.3"/>
<path d="M90.7 550.6H634.8" stroke="#EBEBEB" stroke-width="1.3"/>
<path d="M90.7 585.7H634.8" stroke="#EBEBEB" stroke-width="1.3"/>
<rect x="90.7" y="529.2" width="544.1" height="77.3" fill="none" stroke="#333" stroke-width="1.1"/>
<text x="83" y="554.3" font-size="12.8" text-anchor="end" fill="#E8625F">High</text>
<text x="83" y="589.4" font-size="12.8" text-anchor="end" fill="#4ECDC4">Low</text>
<text x="115.04" y="556.9" font-size="17.6" text-anchor="middle" fill="#000">9</text>
<text x="115.04" y="592" font-size="17.6" text-anchor="middle" fill="#000">37</text>
<text x="238.84" y="556.9" font-size="17.6" text-anchor="middle" fill="#000">2</text>
<text x="238.84" y="592" font-size="17.6" text-anchor="middle" fill="#000">18</text>
<text x="362.65" y="556.9" font-size="17.6" text-anchor="middle" fill="#000">0</text>
<text x="362.65" y="592" font-size="17.6" text-anchor="middle" fill="#000">8</text>
<text x="486.46" y="556.9" font-size="17.6" text-anchor="middle" fill="#000">0</text>
<text x="486.46" y="592" font-size="17.6" text-anchor="middle" fill="#000">5</text>
<text x="610.26" y="556.9" font-size="17.6" text-anchor="middle" fill="#000">0</text>
<text x="610.26" y="592" font-size="17.6" text-anchor="middle" fill="#000">0</text>
</g>
<g transform="translate(0,1260)">
<text x="2" y="30.8" font-size="39" font-weight="bold" fill="#000">e</text>
<text x="362.05" y="28.2" font-size="18.5" text-anchor="middle" fill="#000">Center A Cohort OS</text>
<text x="282.2" y="64.7" font-size="15.2" fill="#000">NTR</text>
<path d="M323.2 59.8h19.8" stroke="#E8625F" stroke-width="3.2"/>
<path d="M328.3 58.3h9.6M333.1 53.4v9.6" stroke="#E8625F" stroke-width="1.7"/>
<path d="M389.4 59.8h19.8" stroke="#4ECDC4" stroke-width="3.2"/>
<path d="M394.5 58.3h9.6M399.3 53.4v9.6" stroke="#4ECDC4" stroke-width="1.7"/>
<text x="353.6" y="64.3" font-size="12.75" fill="#1a1a1a">High</text>
<text x="420" y="64.3" font-size="12.75" fill="#1a1a1a">Low</text>
<rect x="89.3" y="95.6" width="545.5" height="355.2" fill="#fff"/>
<path d="M89.3 394.9H634.8" stroke="#EBEBEB" stroke-width="1"/>
<path d="M89.3 313.9H634.8" stroke="#EBEBEB" stroke-width="1"/>
<path d="M89.3 232.9H634.8" stroke="#EBEBEB" stroke-width="1"/>
<path d="M89.3 151.9H634.8" stroke="#EBEBEB" stroke-width="1"/>
<path d="M175.62 95.6V450.8" stroke="#EBEBEB" stroke-width="1"/>
<path d="M299.88 95.6V450.8" stroke="#EBEBEB" stroke-width="1"/>
<path d="M424.12 95.6V450.8" stroke="#EBEBEB" stroke-width="1"/>
<path d="M548.38 95.6V450.8" stroke="#EBEBEB" stroke-width="1"/>
<path d="M89.3 435.4H634.8" stroke="#EBEBEB" stroke-width="1.3"/>
<path d="M89.3 354.4H634.8" stroke="#EBEBEB" stroke-width="1.3"/>
<path d="M89.3 273.4H634.8" stroke="#EBEBEB" stroke-width="1.3"/>
<path d="M89.3 192.4H634.8" stroke="#EBEBEB" stroke-width="1.3"/>
<path d="M89.3 111.4H634.8" stroke="#EBEBEB" stroke-width="1.3"/>
<path d="M113.5 95.6V450.8" stroke="#EBEBEB" stroke-width="1.3"/>
<path d="M237.75 95.6V450.8" stroke="#EBEBEB" stroke-width="1.3"/>
<path d="M362 95.6V450.8" stroke="#EBEBEB" stroke-width="1.3"/>
<path d="M486.25 95.6V450.8" stroke="#EBEBEB" stroke-width="1.3"/>
<path d="M610.5 95.6V450.8" stroke="#EBEBEB" stroke-width="1.3"/>
</g>
<clipPath id="clipe"><rect x="89.3" y="1355.6" width="545.5" height="355.2"/></clipPath>
<g clip-path="url(#clipe)">
<path d="M113.5 1371.4H125.1V1374.9H137.2V1378.6H144.7V1388.8H150.6V1420.5H156.8V1437.8H163.3V1460.5H169.8V1504.2H175.5V1521.9H182.3V1534.9H188.1V1557.2H194.3V1584.2H200.2V1592.6H213.3V1596.3H219.2V1610.8H225.4V1628.5H231.5V1637.2H237.5V1641H250.5V1650.3H256.1V1654.9H261.6V1658.6H268.2V1664.2H275V1674.4H337V1695H337" stroke="#E8625F" stroke-width="3" fill="none" stroke-linejoin="miter" stroke-linecap="butt"/>
<path d="M113.5 1371.4H132.6V1374.9H163.3V1378.6H175.4V1382.3H188.4V1390.1H194.5V1405.6H198.6V1407.5H205.1V1410.2H212.6V1432.6H218.2V1435.4H224.7V1439.6H231.2V1451.7H243.3V1455.5H248.9V1458.6H261.9V1467.6H267.5V1471.6H274V1474.4H279.6V1477.2H286.1V1482.8H298.2V1486.5H304.7V1491.2H317.7V1505.1H323.3V1508.9H325.2V1517.2H329.8V1520H334.2V1521.9H337.2V1542.7H349.5V1554.8H424.3V1563.2H430.5V1570.6H436.6V1578.6H454.7V1586.6H498V1596.3H504.4V1610.2H611" stroke="#4ECDC4" stroke-width="3" fill="none" stroke-linejoin="miter" stroke-linecap="butt"/>
<path d="M254.2 1653.4h9.6M259 1648.6v9.6" stroke="#E8625F" stroke-width="1.7" fill="none"/>
<path d="M258.2 1657.1h9.6M263 1652.3v9.6" stroke="#E8625F" stroke-width="1.7" fill="none"/>
<path d="M276.4 1672.9h9.6M281.2 1668.1v9.6" stroke="#E8625F" stroke-width="1.7" fill="none"/>
<path d="M288.5 1672.9h9.6M293.3 1668.1v9.6" stroke="#E8625F" stroke-width="1.7" fill="none"/>
<path d="M313.6 1672.9h9.6M318.4 1668.1v9.6" stroke="#E8625F" stroke-width="1.7" fill="none"/>
<path d="M195.7 1404.1h9.6M200.5 1399.3v9.6" stroke="#4ECDC4" stroke-width="1.7" fill="none"/>
<path d="M197.2 1406h9.6M202 1401.2v9.6" stroke="#4ECDC4" stroke-width="1.7" fill="none"/>
<path d="M251.5 1455.3h9.6M256.3 1450.5v9.6" stroke="#4ECDC4" stroke-width="1.7" fill="none"/>
<path d="M264.5 1468.3h9.6M269.3 1463.5v9.6" stroke="#4ECDC4" stroke-width="1.7" fill="none"/>
<path d="M267.2 1470.1h9.6M272 1465.3v9.6" stroke="#4ECDC4" stroke-width="1.7" fill="none"/>
<path d="M271.2 1472.9h9.6M276 1468.1v9.6" stroke="#4ECDC4" stroke-width="1.7" fill="none"/>
<path d="M277.2 1475.7h9.6M282 1470.9v9.6" stroke="#4ECDC4" stroke-width="1.7" fill="none"/>
<path d="M288.7 1481.3h9.6M293.5 1476.5v9.6" stroke="#4ECDC4" stroke-width="1.7" fill="none"/>
<path d="M295.2 1485h9.6M300 1480.2v9.6" stroke="#4ECDC4" stroke-width="1.7" fill="none"/>
<path d="M307.3 1489.7h9.6M312.1 1484.9v9.6" stroke="#4ECDC4" stroke-width="1.7" fill="none"/>
<path d="M311 1503.6h9.6M315.8 1498.8v9.6" stroke="#4ECDC4" stroke-width="1.7" fill="none"/>
<path d="M325.9 1518.5h9.6M330.7 1513.7v9.6" stroke="#4ECDC4" stroke-width="1.7" fill="none"/>
<path d="M337.8 1541.2h9.6M342.6 1536.4v9.6" stroke="#4ECDC4" stroke-width="1.7" fill="none"/>
<path d="M357.3 1553.3h9.6M362.1 1548.5v9.6" stroke="#4ECDC4" stroke-width="1.7" fill="none"/>
<path d="M369.4 1553.3h9.6M374.2 1548.5v9.6" stroke="#4ECDC4" stroke-width="1.7" fill="none"/>
<path d="M375.4 1553.3h9.6M380.2 1548.5v9.6" stroke="#4ECDC4" stroke-width="1.7" fill="none"/>
<path d="M387.9 1553.3h9.6M392.7 1548.5v9.6" stroke="#4ECDC4" stroke-width="1.7" fill="none"/>
<path d="M443.7 1577.1h9.6M448.5 1572.3v9.6" stroke="#4ECDC4" stroke-width="1.7" fill="none"/>
<path d="M468.5 1585.1h9.6M473.3 1580.3v9.6" stroke="#4ECDC4" stroke-width="1.7" fill="none"/>
<path d="M480.9 1585.1h9.6M485.7 1580.3v9.6" stroke="#4ECDC4" stroke-width="1.7" fill="none"/>
<path d="M487.1 1585.1h9.6M491.9 1580.3v9.6" stroke="#4ECDC4" stroke-width="1.7" fill="none"/>
<path d="M491.7 1594.8h9.6M496.5 1590v9.6" stroke="#4ECDC4" stroke-width="1.7" fill="none"/>
<path d="M512.2 1608.7h9.6M517 1603.9v9.6" stroke="#4ECDC4" stroke-width="1.7" fill="none"/>
<path d="M518.2 1608.7h9.6M523 1603.9v9.6" stroke="#4ECDC4" stroke-width="1.7" fill="none"/>
<path d="M536.8 1608.7h9.6M541.6 1603.9v9.6" stroke="#4ECDC4" stroke-width="1.7" fill="none"/>
<path d="M549.4 1608.7h9.6M554.2 1603.9v9.6" stroke="#4ECDC4" stroke-width="1.7" fill="none"/>
<path d="M555.4 1608.7h9.6M560.2 1603.9v9.6" stroke="#4ECDC4" stroke-width="1.7" fill="none"/>
<path d="M605.2 1608.7h9.6M610 1603.9v9.6" stroke="#4ECDC4" stroke-width="1.7" fill="none"/>
<path d="M113.5 1533.4H337.2" stroke="#000" stroke-width="1.7" stroke-dasharray="6.05 6.05" fill="none"/>
<path d="M182 1533.4V1695" stroke="#000" stroke-width="1.7" stroke-dasharray="6.05 6.05" fill="none"/>
<path d="M337.2 1533.4V1695" stroke="#000" stroke-width="1.7" stroke-dasharray="6.05 6.05" fill="none"/>
</g>
<g transform="translate(0,1260)">
<text x="123.6" y="375.9" font-size="15.55" fill="#000">p &lt; 0.0001</text>
<rect x="89.3" y="95.6" width="545.5" height="355.2" fill="none" stroke="#333" stroke-width="1.1"/>
<path d="M85.2 111.4H89.3" stroke="#111" stroke-width="1.1"/>
<text x="81.8" y="115.8" font-size="12.4" text-anchor="end" fill="#4D4D4D">1.00</text>
<path d="M85.2 192.4H89.3" stroke="#111" stroke-width="1.1"/>
<text x="81.8" y="196.8" font-size="12.4" text-anchor="end" fill="#4D4D4D">0.75</text>
<path d="M85.2 273.4H89.3" stroke="#111" stroke-width="1.1"/>
<text x="81.8" y="277.8" font-size="12.4" text-anchor="end" fill="#4D4D4D">0.50</text>
<path d="M85.2 354.4H89.3" stroke="#111" stroke-width="1.1"/>
<text x="81.8" y="358.8" font-size="12.4" text-anchor="end" fill="#4D4D4D">0.25</text>
<path d="M85.2 435.4H89.3" stroke="#111" stroke-width="1.1"/>
<text x="81.8" y="439.8" font-size="12.4" text-anchor="end" fill="#4D4D4D">0.00</text>
<path d="M113.5 450.8V455.9" stroke="#111" stroke-width="1.1"/>
<text x="113.5" y="468" font-size="12.4" text-anchor="middle" fill="#4D4D4D">0</text>
<path d="M237.75 450.8V455.9" stroke="#111" stroke-width="1.1"/>
<text x="237.75" y="468" font-size="12.4" text-anchor="middle" fill="#4D4D4D">20</text>
<path d="M362 450.8V455.9" stroke="#111" stroke-width="1.1"/>
<text x="362" y="468" font-size="12.4" text-anchor="middle" fill="#4D4D4D">40</text>
<path d="M486.25 450.8V455.9" stroke="#111" stroke-width="1.1"/>
<text x="486.25" y="468" font-size="12.4" text-anchor="middle" fill="#4D4D4D">60</text>
<path d="M610.5 450.8V455.9" stroke="#111" stroke-width="1.1"/>
<text x="610.5" y="468" font-size="12.4" text-anchor="middle" fill="#4D4D4D">80</text>
<text x="362.05" y="485.1" font-size="15.6" text-anchor="middle" fill="#000">Time (Month)</text>
<text transform="translate(49.8 273.2) rotate(-90)" font-size="15.6" text-anchor="middle" fill="#000">Survival probability</text>
<text x="91" y="517.4" font-size="18.4" fill="#000">Number at risk</text>
<rect x="90.7" y="529.2" width="544.1" height="77.3" fill="#fff"/>
<path d="M176.8 529.2V606.5" stroke="#EBEBEB" stroke-width="1"/>
<path d="M300.73 529.2V606.5" stroke="#EBEBEB" stroke-width="1"/>
<path d="M424.67 529.2V606.5" stroke="#EBEBEB" stroke-width="1"/>
<path d="M548.6 529.2V606.5" stroke="#EBEBEB" stroke-width="1"/>
<path d="M114.84 529.2V606.5" stroke="#EBEBEB" stroke-width="1.3"/>
<path d="M238.77 529.2V606.5" stroke="#EBEBEB" stroke-width="1.3"/>
<path d="M362.7 529.2V606.5" stroke="#EBEBEB" stroke-width="1.3"/>
<path d="M486.63 529.2V606.5" stroke="#EBEBEB" stroke-width="1.3"/>
<path d="M610.56 529.2V606.5" stroke="#EBEBEB" stroke-width="1.3"/>
<path d="M90.7 550.6H634.8" stroke="#EBEBEB" stroke-width="1.3"/>
<path d="M90.7 585.7H634.8" stroke="#EBEBEB" stroke-width="1.3"/>
<rect x="90.7" y="529.2" width="544.1" height="77.3" fill="none" stroke="#333" stroke-width="1.1"/>
<text x="83" y="554.3" font-size="12.8" text-anchor="end" fill="#E8625F">High</text>
<text x="83" y="589.4" font-size="12.8" text-anchor="end" fill="#4ECDC4">Low</text>
<text x="114.84" y="556.9" font-size="17.6" text-anchor="middle" fill="#000">73</text>
<text x="114.84" y="592" font-size="17.6" text-anchor="middle" fill="#000">85</text>
<text x="238.77" y="556.9" font-size="17.6" text-anchor="middle" fill="#000">13</text>
<text x="238.77" y="592" font-size="17.6" text-anchor="middle" fill="#000">63</text>
<text x="362.7" y="556.9" font-size="17.6" text-anchor="middle" fill="#000">0</text>
<text x="362.7" y="592" font-size="17.6" text-anchor="middle" fill="#000">22</text>
<text x="486.63" y="556.9" font-size="17.6" text-anchor="middle" fill="#000">0</text>
<text x="486.63" y="592" font-size="17.6" text-anchor="middle" fill="#000">12</text>
<text x="610.56" y="556.9" font-size="17.6" text-anchor="middle" fill="#000">0</text>
<text x="610.56" y="592" font-size="17.6" text-anchor="middle" fill="#000">1</text>
</g>
<g transform="translate(813,1260)">
<text x="2" y="30.8" font-size="39" font-weight="bold" fill="#000">f</text>
<text x="362.05" y="28.2" font-size="18.5" text-anchor="middle" fill="#000">Center A Cohort RFS</text>
<text x="282.2" y="64.7" font-size="15.2" fill="#000">NTR</text>
<path d="M323.2 59.8h19.8" stroke="#E8625F" stroke-width="3.2"/>
<path d="M328.3 58.3h9.6M333.1 53.4v9.6" stroke="#E8625F" stroke-width="1.7"/>
<path d="M389.4 59.8h19.8" stroke="#4ECDC4" stroke-width="3.2"/>
<path d="M394.5 58.3h9.6M399.3 53.4v9.6" stroke="#4ECDC4" stroke-width="1.7"/>
<text x="353.6" y="64.3" font-size="12.75" fill="#1a1a1a">High</text>
<text x="420" y="64.3" font-size="12.75" fill="#1a1a1a">Low</text>
<rect x="89.3" y="95.6" width="545.5" height="355.2" fill="#fff"/>
<path d="M89.3 394.9H634.8" stroke="#EBEBEB" stroke-width="1"/>
<path d="M89.3 313.9H634.8" stroke="#EBEBEB" stroke-width="1"/>
<path d="M89.3 232.9H634.8" stroke="#EBEBEB" stroke-width="1"/>
<path d="M89.3 151.9H634.8" stroke="#EBEBEB" stroke-width="1"/>
<path d="M175.76 95.6V450.8" stroke="#EBEBEB" stroke-width="1"/>
<path d="M299.88 95.6V450.8" stroke="#EBEBEB" stroke-width="1"/>
<path d="M424 95.6V450.8" stroke="#EBEBEB" stroke-width="1"/>
<path d="M548.12 95.6V450.8" stroke="#EBEBEB" stroke-width="1"/>
<path d="M89.3 435.4H634.8" stroke="#EBEBEB" stroke-width="1.3"/>
<path d="M89.3 354.4H634.8" stroke="#EBEBEB" stroke-width="1.3"/>
<path d="M89.3 273.4H634.8" stroke="#EBEBEB" stroke-width="1.3"/>
<path d="M89.3 192.4H634.8" stroke="#EBEBEB" stroke-width="1.3"/>
<path d="M89.3 111.4H634.8" stroke="#EBEBEB" stroke-width="1.3"/>
<path d="M113.7 95.6V450.8" stroke="#EBEBEB" stroke-width="1.3"/>
<path d="M237.82 95.6V450.8" stroke="#EBEBEB" stroke-width="1.3"/>
<path d="M361.94 95.6V450.8" stroke="#EBEBEB" stroke-width="1.3"/>
<path d="M486.06 95.6V450.8" stroke="#EBEBEB" stroke-width="1.3"/>
<path d="M610.18 95.6V450.8" stroke="#EBEBEB" stroke-width="1.3"/>
</g>
<clipPath id="clipf"><rect x="902.3" y="1355.6" width="545.5" height="355.2"/></clipPath>
<g clip-path="url(#clipf)">
<path d="M926.7 1371.4H932V1374.9H938.8V1406.5H945V1446.5H951.3V1477.6H957.5V1499.2H964V1521.9H970V1553.1H976.5V1601.9H982.5V1610.8H989.2V1637.2H995.1V1663.7H1000.7V1677.2H1012.8V1683.4H1019.7V1689.3H1032.3V1695H1032.3" stroke="#E8625F" stroke-width="3" fill="none" stroke-linejoin="miter" stroke-linecap="butt"/>
<path d="M926.7 1371.4H950.9V1378.6H957.5V1382.7H964V1386H969.9V1394.4H976.1V1402.4H982.6V1414H988.5V1425.1H994.7V1448.4H1000.8V1460.1H1007.1V1467.6H1013.3V1475.4H1019.4V1482.8H1031.9V1486.5H1038.4V1490.6H1044.4V1506.1H1050.5V1513.5H1057V1517.2H1063.5V1528.4H1069.6V1538.6H1074.2V1544.2H1088.2V1548.3H1100.8V1557.2H1106.8V1561.3H1113.3V1568H1119.8V1573H1125.4V1581.4H1212V1589.8H1230.6V1596.9H1305V1606.5H1423.4" stroke="#4ECDC4" stroke-width="3" fill="none" stroke-linejoin="miter" stroke-linecap="butt"/>
<path d="M1002.4 1675.7h9.6M1007.2 1670.9v9.6" stroke="#E8625F" stroke-width="1.7" fill="none"/>
<path d="M940.6 1369.9h9.6M945.4 1365.1v9.6" stroke="#4ECDC4" stroke-width="1.7" fill="none"/>
<path d="M1067.2 1537.1h9.6M1072 1532.3v9.6" stroke="#4ECDC4" stroke-width="1.7" fill="none"/>
<path d="M1083.4 1542.7h9.6M1088.2 1537.9v9.6" stroke="#4ECDC4" stroke-width="1.7" fill="none"/>
<path d="M1108.5 1559.8h9.6M1113.3 1555v9.6" stroke="#4ECDC4" stroke-width="1.7" fill="none"/>
<path d="M1126.5 1579.9h9.6M1131.3 1575.1v9.6" stroke="#4ECDC4" stroke-width="1.7" fill="none"/>
<path d="M1138.8 1579.9h9.6M1143.6 1575.1v9.6" stroke="#4ECDC4" stroke-width="1.7" fill="none"/>
<path d="M1151.3 1579.9h9.6M1156.1 1575.1v9.6" stroke="#4ECDC4" stroke-width="1.7" fill="none"/>
<path d="M1157.4 1579.9h9.6M1162.2 1575.1v9.6" stroke="#4ECDC4" stroke-width="1.7" fill="none"/>
<path d="M1169.9 1579.9h9.6M1174.7 1575.1v9.6" stroke="#4ECDC4" stroke-width="1.7" fill="none"/>
<path d="M1182.6 1579.9h9.6M1187.4 1575.1v9.6" stroke="#4ECDC4" stroke-width="1.7" fill="none"/>
<path d="M1188.6 1579.9h9.6M1193.4 1575.1v9.6" stroke="#4ECDC4" stroke-width="1.7" fill="none"/>
<path d="M1200.9 1579.9h9.6M1205.7 1575.1v9.6" stroke="#4ECDC4" stroke-width="1.7" fill="none"/>
<path d="M1256.7 1595.4h9.6M1261.5 1590.6v9.6" stroke="#4ECDC4" stroke-width="1.7" fill="none"/>
<path d="M1281.6 1595.4h9.6M1286.4 1590.6v9.6" stroke="#4ECDC4" stroke-width="1.7" fill="none"/>
<path d="M1293.9 1595.4h9.6M1298.7 1590.6v9.6" stroke="#4ECDC4" stroke-width="1.7" fill="none"/>
<path d="M1306.4 1605h9.6M1311.2 1600.2v9.6" stroke="#4ECDC4" stroke-width="1.7" fill="none"/>
<path d="M1325.6 1605h9.6M1330.4 1600.2v9.6" stroke="#4ECDC4" stroke-width="1.7" fill="none"/>
<path d="M1331.5 1605h9.6M1336.3 1600.2v9.6" stroke="#4ECDC4" stroke-width="1.7" fill="none"/>
<path d="M1350.1 1605h9.6M1354.9 1600.2v9.6" stroke="#4ECDC4" stroke-width="1.7" fill="none"/>
<path d="M1362.2 1605h9.6M1367 1600.2v9.6" stroke="#4ECDC4" stroke-width="1.7" fill="none"/>
<path d="M1368.7 1605h9.6M1373.5 1600.2v9.6" stroke="#4ECDC4" stroke-width="1.7" fill="none"/>
<path d="M1418 1605h9.6M1422.8 1600.2v9.6" stroke="#4ECDC4" stroke-width="1.7" fill="none"/>
<path d="M926.7 1533.4H1069.2" stroke="#000" stroke-width="1.7" stroke-dasharray="6.05 6.05" fill="none"/>
<path d="M969.7 1533.4V1695" stroke="#000" stroke-width="1.7" stroke-dasharray="6.05 6.05" fill="none"/>
<path d="M1069.2 1533.4V1695" stroke="#000" stroke-width="1.7" stroke-dasharray="6.05 6.05" fill="none"/>
</g>
<g transform="translate(813,1260)">
<text x="123.6" y="375.9" font-size="15.55" fill="#000">p &lt; 0.0001</text>
<rect x="89.3" y="95.6" width="545.5" height="355.2" fill="none" stroke="#333" stroke-width="1.1"/>
<path d="M85.2 111.4H89.3" stroke="#111" stroke-width="1.1"/>
<text x="81.8" y="115.8" font-size="12.4" text-anchor="end" fill="#4D4D4D">1.00</text>
<path d="M85.2 192.4H89.3" stroke="#111" stroke-width="1.1"/>
<text x="81.8" y="196.8" font-size="12.4" text-anchor="end" fill="#4D4D4D">0.75</text>
<path d="M85.2 273.4H89.3" stroke="#111" stroke-width="1.1"/>
<text x="81.8" y="277.8" font-size="12.4" text-anchor="end" fill="#4D4D4D">0.50</text>
<path d="M85.2 354.4H89.3" stroke="#111" stroke-width="1.1"/>
<text x="81.8" y="358.8" font-size="12.4" text-anchor="end" fill="#4D4D4D">0.25</text>
<path d="M85.2 435.4H89.3" stroke="#111" stroke-width="1.1"/>
<text x="81.8" y="439.8" font-size="12.4" text-anchor="end" fill="#4D4D4D">0.00</text>
<path d="M113.7 450.8V455.9" stroke="#111" stroke-width="1.1"/>
<text x="113.7" y="468" font-size="12.4" text-anchor="middle" fill="#4D4D4D">0</text>
<path d="M237.82 450.8V455.9" stroke="#111" stroke-width="1.1"/>
<text x="237.82" y="468" font-size="12.4" text-anchor="middle" fill="#4D4D4D">20</text>
<path d="M361.94 450.8V455.9" stroke="#111" stroke-width="1.1"/>
<text x="361.94" y="468" font-size="12.4" text-anchor="middle" fill="#4D4D4D">40</text>
<path d="M486.06 450.8V455.9" stroke="#111" stroke-width="1.1"/>
<text x="486.06" y="468" font-size="12.4" text-anchor="middle" fill="#4D4D4D">60</text>
<path d="M610.18 450.8V455.9" stroke="#111" stroke-width="1.1"/>
<text x="610.18" y="468" font-size="12.4" text-anchor="middle" fill="#4D4D4D">80</text>
<text x="362.05" y="485.1" font-size="15.6" text-anchor="middle" fill="#000">Time (Month)</text>
<text transform="translate(49.8 273.2) rotate(-90)" font-size="15.6" text-anchor="middle" fill="#000">Survival probability</text>
<text x="91" y="517.4" font-size="18.4" fill="#000">Number at risk</text>
<rect x="90.7" y="529.2" width="544.1" height="77.3" fill="#fff"/>
<path d="M176.94 529.2V606.5" stroke="#EBEBEB" stroke-width="1"/>
<path d="M300.74 529.2V606.5" stroke="#EBEBEB" stroke-width="1"/>
<path d="M424.54 529.2V606.5" stroke="#EBEBEB" stroke-width="1"/>
<path d="M548.34 529.2V606.5" stroke="#EBEBEB" stroke-width="1"/>
<path d="M115.04 529.2V606.5" stroke="#EBEBEB" stroke-width="1.3"/>
<path d="M238.84 529.2V606.5" stroke="#EBEBEB" stroke-width="1.3"/>
<path d="M362.64 529.2V606.5" stroke="#EBEBEB" stroke-width="1.3"/>
<path d="M486.44 529.2V606.5" stroke="#EBEBEB" stroke-width="1.3"/>
<path d="M610.24 529.2V606.5" stroke="#EBEBEB" stroke-width="1.3"/>
<path d="M90.7 550.6H634.8" stroke="#EBEBEB" stroke-width="1.3"/>
<path d="M90.7 585.7H634.8" stroke="#EBEBEB" stroke-width="1.3"/>
<rect x="90.7" y="529.2" width="544.1" height="77.3" fill="none" stroke="#333" stroke-width="1.1"/>
<text x="83" y="554.3" font-size="12.8" text-anchor="end" fill="#E8625F">High</text>
<text x="83" y="589.4" font-size="12.8" text-anchor="end" fill="#4ECDC4">Low</text>
<text x="115.04" y="556.9" font-size="17.6" text-anchor="middle" fill="#000">73</text>
<text x="115.04" y="592" font-size="17.6" text-anchor="middle" fill="#000">85</text>
<text x="238.84" y="556.9" font-size="17.6" text-anchor="middle" fill="#000">0</text>
<text x="238.84" y="592" font-size="17.6" text-anchor="middle" fill="#000">49</text>
<text x="362.64" y="556.9" font-size="17.6" text-anchor="middle" fill="#000">0</text>
<text x="362.64" y="592" font-size="17.6" text-anchor="middle" fill="#000">19</text>
<text x="486.44" y="556.9" font-size="17.6" text-anchor="middle" fill="#000">0</text>
<text x="486.44" y="592" font-size="17.6" text-anchor="middle" fill="#000">11</text>
<text x="610.24" y="556.9" font-size="17.6" text-anchor="middle" fill="#000">0</text>
<text x="610.24" y="592" font-size="17.6" text-anchor="middle" fill="#000">1</text>
</g>
<g transform="translate(0,1890)">
<text x="2" y="30.8" font-size="39" font-weight="bold" fill="#000">g</text>
<text x="362.05" y="28.2" font-size="18.5" text-anchor="middle" fill="#000">Ex−val Cohort OS</text>
<text x="282.2" y="64.7" font-size="15.2" fill="#000">NTR</text>
<path d="M323.2 59.8h19.8" stroke="#E8625F" stroke-width="3.2"/>
<path d="M328.3 58.3h9.6M333.1 53.4v9.6" stroke="#E8625F" stroke-width="1.7"/>
<path d="M389.4 59.8h19.8" stroke="#4ECDC4" stroke-width="3.2"/>
<path d="M394.5 58.3h9.6M399.3 53.4v9.6" stroke="#4ECDC4" stroke-width="1.7"/>
<text x="353.6" y="64.3" font-size="12.75" fill="#1a1a1a">High</text>
<text x="420" y="64.3" font-size="12.75" fill="#1a1a1a">Low</text>
<rect x="89.3" y="95.6" width="545.5" height="355.2" fill="#fff"/>
<path d="M89.3 394.9H634.8" stroke="#EBEBEB" stroke-width="1"/>
<path d="M89.3 313.9H634.8" stroke="#EBEBEB" stroke-width="1"/>
<path d="M89.3 232.9H634.8" stroke="#EBEBEB" stroke-width="1"/>
<path d="M89.3 151.9H634.8" stroke="#EBEBEB" stroke-width="1"/>
<path d="M163.47 95.6V450.8" stroke="#EBEBEB" stroke-width="1"/>
<path d="M262.81 95.6V450.8" stroke="#EBEBEB" stroke-width="1"/>
<path d="M362.15 95.6V450.8" stroke="#EBEBEB" stroke-width="1"/>
<path d="M461.49 95.6V450.8" stroke="#EBEBEB" stroke-width="1"/>
<path d="M560.83 95.6V450.8" stroke="#EBEBEB" stroke-width="1"/>
<path d="M89.3 435.4H634.8" stroke="#EBEBEB" stroke-width="1.3"/>
<path d="M89.3 354.4H634.8" stroke="#EBEBEB" stroke-width="1.3"/>
<path d="M89.3 273.4H634.8" stroke="#EBEBEB" stroke-width="1.3"/>
<path d="M89.3 192.4H634.8" stroke="#EBEBEB" stroke-width="1.3"/>
<path d="M89.3 111.4H634.8" stroke="#EBEBEB" stroke-width="1.3"/>
<path d="M113.8 95.6V450.8" stroke="#EBEBEB" stroke-width="1.3"/>
<path d="M213.14 95.6V450.8" stroke="#EBEBEB" stroke-width="1.3"/>
<path d="M312.48 95.6V450.8" stroke="#EBEBEB" stroke-width="1.3"/>
<path d="M411.82 95.6V450.8" stroke="#EBEBEB" stroke-width="1.3"/>
<path d="M511.16 95.6V450.8" stroke="#EBEBEB" stroke-width="1.3"/>
<path d="M610.5 95.6V450.8" stroke="#EBEBEB" stroke-width="1.3"/>
</g>
<clipPath id="clipg"><rect x="89.3" y="1985.6" width="545.5" height="355.2"/></clipPath>
<g clip-path="url(#clipg)">
<path d="M113.8 2001.4H133.1V2027.3H173V2053.3H193.5V2078.8H203.1V2092.9H213.2V2106.4H223.2V2120.9H233.4V2152.1H242.8V2221.6H252.6V2273.4H351.6V2299.1H391.8" stroke="#E8625F" stroke-width="3" fill="none" stroke-linejoin="miter" stroke-linecap="butt"/>
<path d="M113.8 2001.4H233.4V2021.5H292.7V2043.3H312.5V2064.9H332.4V2088.6H352.5V2112.5H372V2139H401.7V2176.4H411.7V2213.6H640" stroke="#4ECDC4" stroke-width="3" fill="none" stroke-linejoin="miter" stroke-linecap="butt"/>
<path d="M188.7 2077.3h9.6M193.5 2072.5v9.6" stroke="#E8625F" stroke-width="1.7" fill="none"/>
<path d="M208.4 2104.9h9.6M213.2 2100.1v9.6" stroke="#E8625F" stroke-width="1.7" fill="none"/>
<path d="M218 2119.4h9.6M222.8 2114.6v9.6" stroke="#E8625F" stroke-width="1.7" fill="none"/>
<path d="M228.6 2150.6h9.6M233.4 2145.8v9.6" stroke="#E8625F" stroke-width="1.7" fill="none"/>
<path d="M277.8 2271.9h9.6M282.6 2267.1v9.6" stroke="#E8625F" stroke-width="1.7" fill="none"/>
<path d="M387 2297.6h9.6M391.8 2292.8v9.6" stroke="#E8625F" stroke-width="1.7" fill="none"/>
<path d="M178.4 1999.9h9.6M183.2 1995.1v9.6" stroke="#4ECDC4" stroke-width="1.7" fill="none"/>
<path d="M228.6 2020h9.6M233.4 2015.2v9.6" stroke="#4ECDC4" stroke-width="1.7" fill="none"/>
<path d="M317.4 2063.4h9.6M322.2 2058.6v9.6" stroke="#4ECDC4" stroke-width="1.7" fill="none"/>
<path d="M356.6 2111h9.6M361.4 2106.2v9.6" stroke="#4ECDC4" stroke-width="1.7" fill="none"/>
<path d="M386.5 2137.5h9.6M391.3 2132.7v9.6" stroke="#4ECDC4" stroke-width="1.7" fill="none"/>
<path d="M456.5 2212.1h9.6M461.3 2207.3v9.6" stroke="#4ECDC4" stroke-width="1.7" fill="none"/>
<path d="M525.6 2212.1h9.6M530.4 2207.3v9.6" stroke="#4ECDC4" stroke-width="1.7" fill="none"/>
<path d="M113.8 2163.4H401.6" stroke="#000" stroke-width="1.7" stroke-dasharray="6.05 6.05" fill="none"/>
<path d="M242.8 2163.4V2325" stroke="#000" stroke-width="1.7" stroke-dasharray="6.05 6.05" fill="none"/>
<path d="M401.6 2163.4V2325" stroke="#000" stroke-width="1.7" stroke-dasharray="6.05 6.05" fill="none"/>
</g>
<g transform="translate(0,1890)">
<text x="124.7" y="375.9" font-size="15.55" fill="#000">p &lt; 0.0001</text>
<rect x="89.3" y="95.6" width="545.5" height="355.2" fill="none" stroke="#333" stroke-width="1.1"/>
<path d="M85.2 111.4H89.3" stroke="#111" stroke-width="1.1"/>
<text x="81.8" y="115.8" font-size="12.4" text-anchor="end" fill="#4D4D4D">1.00</text>
<path d="M85.2 192.4H89.3" stroke="#111" stroke-width="1.1"/>
<text x="81.8" y="196.8" font-size="12.4" text-anchor="end" fill="#4D4D4D">0.75</text>
<path d="M85.2 273.4H89.3" stroke="#111" stroke-width="1.1"/>
<text x="81.8" y="277.8" font-size="12.4" text-anchor="end" fill="#4D4D4D">0.50</text>
<path d="M85.2 354.4H89.3" stroke="#111" stroke-width="1.1"/>
<text x="81.8" y="358.8" font-size="12.4" text-anchor="end" fill="#4D4D4D">0.25</text>
<path d="M85.2 435.4H89.3" stroke="#111" stroke-width="1.1"/>
<text x="81.8" y="439.8" font-size="12.4" text-anchor="end" fill="#4D4D4D">0.00</text>
<path d="M113.8 450.8V455.9" stroke="#111" stroke-width="1.1"/>
<text x="113.8" y="468" font-size="12.4" text-anchor="middle" fill="#4D4D4D">0</text>
<path d="M213.14 450.8V455.9" stroke="#111" stroke-width="1.1"/>
<text x="213.14" y="468" font-size="12.4" text-anchor="middle" fill="#4D4D4D">10</text>
<path d="M312.48 450.8V455.9" stroke="#111" stroke-width="1.1"/>
<text x="312.48" y="468" font-size="12.4" text-anchor="middle" fill="#4D4D4D">20</text>
<path d="M411.82 450.8V455.9" stroke="#111" stroke-width="1.1"/>
<text x="411.82" y="468" font-size="12.4" text-anchor="middle" fill="#4D4D4D">30</text>
<path d="M511.16 450.8V455.9" stroke="#111" stroke-width="1.1"/>
<text x="511.16" y="468" font-size="12.4" text-anchor="middle" fill="#4D4D4D">40</text>
<path d="M610.5 450.8V455.9" stroke="#111" stroke-width="1.1"/>
<text x="610.5" y="468" font-size="12.4" text-anchor="middle" fill="#4D4D4D">50</text>
<text x="362.05" y="485.1" font-size="15.6" text-anchor="middle" fill="#000">Time (Month)</text>
<text transform="translate(49.8 273.2) rotate(-90)" font-size="15.6" text-anchor="middle" fill="#000">Survival probability</text>
<text x="91" y="517.4" font-size="18.4" fill="#000">Number at risk</text>
<rect x="90.7" y="529.2" width="544.1" height="77.3" fill="#fff"/>
<path d="M164.68 529.2V606.5" stroke="#EBEBEB" stroke-width="1"/>
<path d="M263.76 529.2V606.5" stroke="#EBEBEB" stroke-width="1"/>
<path d="M362.85 529.2V606.5" stroke="#EBEBEB" stroke-width="1"/>
<path d="M461.93 529.2V606.5" stroke="#EBEBEB" stroke-width="1"/>
<path d="M561.02 529.2V606.5" stroke="#EBEBEB" stroke-width="1"/>
<path d="M115.14 529.2V606.5" stroke="#EBEBEB" stroke-width="1.3"/>
<path d="M214.22 529.2V606.5" stroke="#EBEBEB" stroke-width="1.3"/>
<path d="M313.31 529.2V606.5" stroke="#EBEBEB" stroke-width="1.3"/>
<path d="M412.39 529.2V606.5" stroke="#EBEBEB" stroke-width="1.3"/>
<path d="M511.48 529.2V606.5" stroke="#EBEBEB" stroke-width="1.3"/>
<path d="M610.56 529.2V606.5" stroke="#EBEBEB" stroke-width="1.3"/>
<path d="M90.7 550.6H634.8" stroke="#EBEBEB" stroke-width="1.3"/>
<path d="M90.7 585.7H634.8" stroke="#EBEBEB" stroke-width="1.3"/>
<rect x="90.7" y="529.2" width="544.1" height="77.3" fill="none" stroke="#333" stroke-width="1.1"/>
<text x="83" y="554.3" font-size="12.8" text-anchor="end" fill="#E8625F">High</text>
<text x="83" y="589.4" font-size="12.8" text-anchor="end" fill="#4ECDC4">Low</text>
<text x="115.14" y="556.9" font-size="17.6" text-anchor="middle" fill="#000">25</text>
<text x="115.14" y="592" font-size="17.6" text-anchor="middle" fill="#000">17</text>
<text x="214.22" y="556.9" font-size="17.6" text-anchor="middle" fill="#000">17</text>
<text x="214.22" y="592" font-size="17.6" text-anchor="middle" fill="#000">16</text>
<text x="313.31" y="556.9" font-size="17.6" text-anchor="middle" fill="#000">2</text>
<text x="313.31" y="592" font-size="17.6" text-anchor="middle" fill="#000">13</text>
<text x="412.39" y="556.9" font-size="17.6" text-anchor="middle" fill="#000">0</text>
<text x="412.39" y="592" font-size="17.6" text-anchor="middle" fill="#000">4</text>
<text x="511.48" y="556.9" font-size="17.6" text-anchor="middle" fill="#000">0</text>
<text x="511.48" y="592" font-size="17.6" text-anchor="middle" fill="#000">2</text>
<text x="610.56" y="556.9" font-size="17.6" text-anchor="middle" fill="#000">0</text>
<text x="610.56" y="592" font-size="17.6" text-anchor="middle" fill="#000">1</text>
</g>
<g transform="translate(813,1890)">
<text x="2" y="30.8" font-size="39" font-weight="bold" fill="#000">h</text>
<text x="362.05" y="28.2" font-size="18.5" text-anchor="middle" fill="#000">Ex−val Cohort RFS</text>
<text x="282.2" y="64.7" font-size="15.2" fill="#000">NTR</text>
<path d="M323.2 59.8h19.8" stroke="#E8625F" stroke-width="3.2"/>
<path d="M328.3 58.3h9.6M333.1 53.4v9.6" stroke="#E8625F" stroke-width="1.7"/>
<path d="M389.4 59.8h19.8" stroke="#4ECDC4" stroke-width="3.2"/>
<path d="M394.5 58.3h9.6M399.3 53.4v9.6" stroke="#4ECDC4" stroke-width="1.7"/>
<text x="353.6" y="64.3" font-size="12.75" fill="#1a1a1a">High</text>
<text x="420" y="64.3" font-size="12.75" fill="#1a1a1a">Low</text>
<rect x="89.3" y="95.6" width="545.5" height="355.2" fill="#fff"/>
<path d="M89.3 394.9H634.8" stroke="#EBEBEB" stroke-width="1"/>
<path d="M89.3 313.9H634.8" stroke="#EBEBEB" stroke-width="1"/>
<path d="M89.3 232.9H634.8" stroke="#EBEBEB" stroke-width="1"/>
<path d="M89.3 151.9H634.8" stroke="#EBEBEB" stroke-width="1"/>
<path d="M163.63 95.6V450.8" stroke="#EBEBEB" stroke-width="1"/>
<path d="M262.89 95.6V450.8" stroke="#EBEBEB" stroke-width="1"/>
<path d="M362.15 95.6V450.8" stroke="#EBEBEB" stroke-width="1"/>
<path d="M461.41 95.6V450.8" stroke="#EBEBEB" stroke-width="1"/>
<path d="M560.67 95.6V450.8" stroke="#EBEBEB" stroke-width="1"/>
<path d="M89.3 435.4H634.8" stroke="#EBEBEB" stroke-width="1.3"/>
<path d="M89.3 354.4H634.8" stroke="#EBEBEB" stroke-width="1.3"/>
<path d="M89.3 273.4H634.8" stroke="#EBEBEB" stroke-width="1.3"/>
<path d="M89.3 192.4H634.8" stroke="#EBEBEB" stroke-width="1.3"/>
<path d="M89.3 111.4H634.8" stroke="#EBEBEB" stroke-width="1.3"/>
<path d="M114 95.6V450.8" stroke="#EBEBEB" stroke-width="1.3"/>
<path d="M213.26 95.6V450.8" stroke="#EBEBEB" stroke-width="1.3"/>
<path d="M312.52 95.6V450.8" stroke="#EBEBEB" stroke-width="1.3"/>
<path d="M411.78 95.6V450.8" stroke="#EBEBEB" stroke-width="1.3"/>
<path d="M511.04 95.6V450.8" stroke="#EBEBEB" stroke-width="1.3"/>
<path d="M610.3 95.6V450.8" stroke="#EBEBEB" stroke-width="1.3"/>
</g>
<clipPath id="cliph"><rect x="902.3" y="1985.6" width="545.5" height="355.2"/></clipPath>
<g clip-path="url(#cliph)">
<path d="M927 2001.4H946.3V2013.2H956.5V2085.2H966.6V2127.6H976.2V2141.1H986.1V2155.4H996.3V2169.3H1016V2216.2H1026V2232.2H1035.6V2247.1H1065.2V2273.2H1095.5V2298.6H1204.6" stroke="#E8625F" stroke-width="3" fill="none" stroke-linejoin="miter" stroke-linecap="butt"/>
<path d="M927 2001.4H946.3V2020.1H1025.8V2040.8H1046.1V2060.7H1066V2105H1085.6V2127.2H1115.5V2148.9H1125V2170.5H1135.2V2193.1H1155.3V2237.1H1264.5V2281H1460" stroke="#4ECDC4" stroke-width="3" fill="none" stroke-linejoin="miter" stroke-linecap="butt"/>
<path d="M941.5 2011.7h9.6M946.3 2006.9v9.6" stroke="#E8625F" stroke-width="1.7" fill="none"/>
<path d="M1000.9 2167.8h9.6M1005.7 2163v9.6" stroke="#E8625F" stroke-width="1.7" fill="none"/>
<path d="M1041.1 2245.6h9.6M1045.9 2240.8v9.6" stroke="#E8625F" stroke-width="1.7" fill="none"/>
<path d="M1050.7 2245.6h9.6M1055.5 2240.8v9.6" stroke="#E8625F" stroke-width="1.7" fill="none"/>
<path d="M1199.8 2297.1h9.6M1204.6 2292.3v9.6" stroke="#E8625F" stroke-width="1.7" fill="none"/>
<path d="M991.1 2018.6h9.6M995.9 2013.8v9.6" stroke="#4ECDC4" stroke-width="1.7" fill="none"/>
<path d="M1040.9 2059.2h9.6M1045.7 2054.4v9.6" stroke="#4ECDC4" stroke-width="1.7" fill="none"/>
<path d="M1169.8 2235.6h9.6M1174.6 2230.8v9.6" stroke="#4ECDC4" stroke-width="1.7" fill="none"/>
<path d="M1199.9 2235.6h9.6M1204.7 2230.8v9.6" stroke="#4ECDC4" stroke-width="1.7" fill="none"/>
<path d="M927 2163.4H1125" stroke="#000" stroke-width="1.7" stroke-dasharray="6.05 6.05" fill="none"/>
<path d="M996.1 2163.4V2325" stroke="#000" stroke-width="1.7" stroke-dasharray="6.05 6.05" fill="none"/>
<path d="M1125 2163.4V2325" stroke="#000" stroke-width="1.7" stroke-dasharray="6.05 6.05" fill="none"/>
</g>
<g transform="translate(813,1890)">
<text x="124.7" y="375.9" font-size="15.55" fill="#000">p = 0.00072</text>
<rect x="89.3" y="95.6" width="545.5" height="355.2" fill="none" stroke="#333" stroke-width="1.1"/>
<path d="M85.2 111.4H89.3" stroke="#111" stroke-width="1.1"/>
<text x="81.8" y="115.8" font-size="12.4" text-anchor="end" fill="#4D4D4D">1.00</text>
<path d="M85.2 192.4H89.3" stroke="#111" stroke-width="1.1"/>
<text x="81.8" y="196.8" font-size="12.4" text-anchor="end" fill="#4D4D4D">0.75</text>
<path d="M85.2 273.4H89.3" stroke="#111" stroke-width="1.1"/>
<text x="81.8" y="277.8" font-size="12.4" text-anchor="end" fill="#4D4D4D">0.50</text>
<path d="M85.2 354.4H89.3" stroke="#111" stroke-width="1.1"/>
<text x="81.8" y="358.8" font-size="12.4" text-anchor="end" fill="#4D4D4D">0.25</text>
<path d="M85.2 435.4H89.3" stroke="#111" stroke-width="1.1"/>
<text x="81.8" y="439.8" font-size="12.4" text-anchor="end" fill="#4D4D4D">0.00</text>
<path d="M114 450.8V455.9" stroke="#111" stroke-width="1.1"/>
<text x="114" y="468" font-size="12.4" text-anchor="middle" fill="#4D4D4D">0</text>
<path d="M213.26 450.8V455.9" stroke="#111" stroke-width="1.1"/>
<text x="213.26" y="468" font-size="12.4" text-anchor="middle" fill="#4D4D4D">10</text>
<path d="M312.52 450.8V455.9" stroke="#111" stroke-width="1.1"/>
<text x="312.52" y="468" font-size="12.4" text-anchor="middle" fill="#4D4D4D">20</text>
<path d="M411.78 450.8V455.9" stroke="#111" stroke-width="1.1"/>
<text x="411.78" y="468" font-size="12.4" text-anchor="middle" fill="#4D4D4D">30</text>
<path d="M511.04 450.8V455.9" stroke="#111" stroke-width="1.1"/>
<text x="511.04" y="468" font-size="12.4" text-anchor="middle" fill="#4D4D4D">40</text>
<path d="M610.3 450.8V455.9" stroke="#111" stroke-width="1.1"/>
<text x="610.3" y="468" font-size="12.4" text-anchor="middle" fill="#4D4D4D">50</text>
<text x="362.05" y="485.1" font-size="15.6" text-anchor="middle" fill="#000">Time (Month)</text>
<text transform="translate(49.8 273.2) rotate(-90)" font-size="15.6" text-anchor="middle" fill="#000">Survival probability</text>
<text x="91" y="517.4" font-size="18.4" fill="#000">Number at risk</text>
<rect x="90.7" y="529.2" width="544.1" height="77.3" fill="#fff"/>
<path d="M164.84 529.2V606.5" stroke="#EBEBEB" stroke-width="1"/>
<path d="M263.84 529.2V606.5" stroke="#EBEBEB" stroke-width="1"/>
<path d="M362.85 529.2V606.5" stroke="#EBEBEB" stroke-width="1"/>
<path d="M461.85 529.2V606.5" stroke="#EBEBEB" stroke-width="1"/>
<path d="M560.86 529.2V606.5" stroke="#EBEBEB" stroke-width="1"/>
<path d="M115.34 529.2V606.5" stroke="#EBEBEB" stroke-width="1.3"/>
<path d="M214.34 529.2V606.5" stroke="#EBEBEB" stroke-width="1.3"/>
<path d="M313.35 529.2V606.5" stroke="#EBEBEB" stroke-width="1.3"/>
<path d="M412.35 529.2V606.5" stroke="#EBEBEB" stroke-width="1.3"/>
<path d="M511.36 529.2V606.5" stroke="#EBEBEB" stroke-width="1.3"/>
<path d="M610.36 529.2V606.5" stroke="#EBEBEB" stroke-width="1.3"/>
<path d="M90.7 550.6H634.8" stroke="#EBEBEB" stroke-width="1.3"/>
<path d="M90.7 585.7H634.8" stroke="#EBEBEB" stroke-width="1.3"/>
<rect x="90.7" y="529.2" width="544.1" height="77.3" fill="none" stroke="#333" stroke-width="1.1"/>
<text x="83" y="554.3" font-size="12.8" text-anchor="end" fill="#E8625F">High</text>
<text x="83" y="589.4" font-size="12.8" text-anchor="end" fill="#4ECDC4">Low</text>
<text x="115.34" y="556.9" font-size="17.6" text-anchor="middle" fill="#000">25</text>
<text x="115.34" y="592" font-size="17.6" text-anchor="middle" fill="#000">17</text>
<text x="214.34" y="556.9" font-size="17.6" text-anchor="middle" fill="#000">7</text>
<text x="214.34" y="592" font-size="17.6" text-anchor="middle" fill="#000">15</text>
<text x="313.35" y="556.9" font-size="17.6" text-anchor="middle" fill="#000">1</text>
<text x="313.35" y="592" font-size="17.6" text-anchor="middle" fill="#000">8</text>
<text x="412.35" y="556.9" font-size="17.6" text-anchor="middle" fill="#000">0</text>
<text x="412.35" y="592" font-size="17.6" text-anchor="middle" fill="#000">2</text>
<text x="511.36" y="556.9" font-size="17.6" text-anchor="middle" fill="#000">0</text>
<text x="511.36" y="592" font-size="17.6" text-anchor="middle" fill="#000">1</text>
<text x="610.36" y="556.9" font-size="17.6" text-anchor="middle" fill="#000">0</text>
<text x="610.36" y="592" font-size="17.6" text-anchor="middle" fill="#000">1</text>
</g>
</svg>
</body></html>
